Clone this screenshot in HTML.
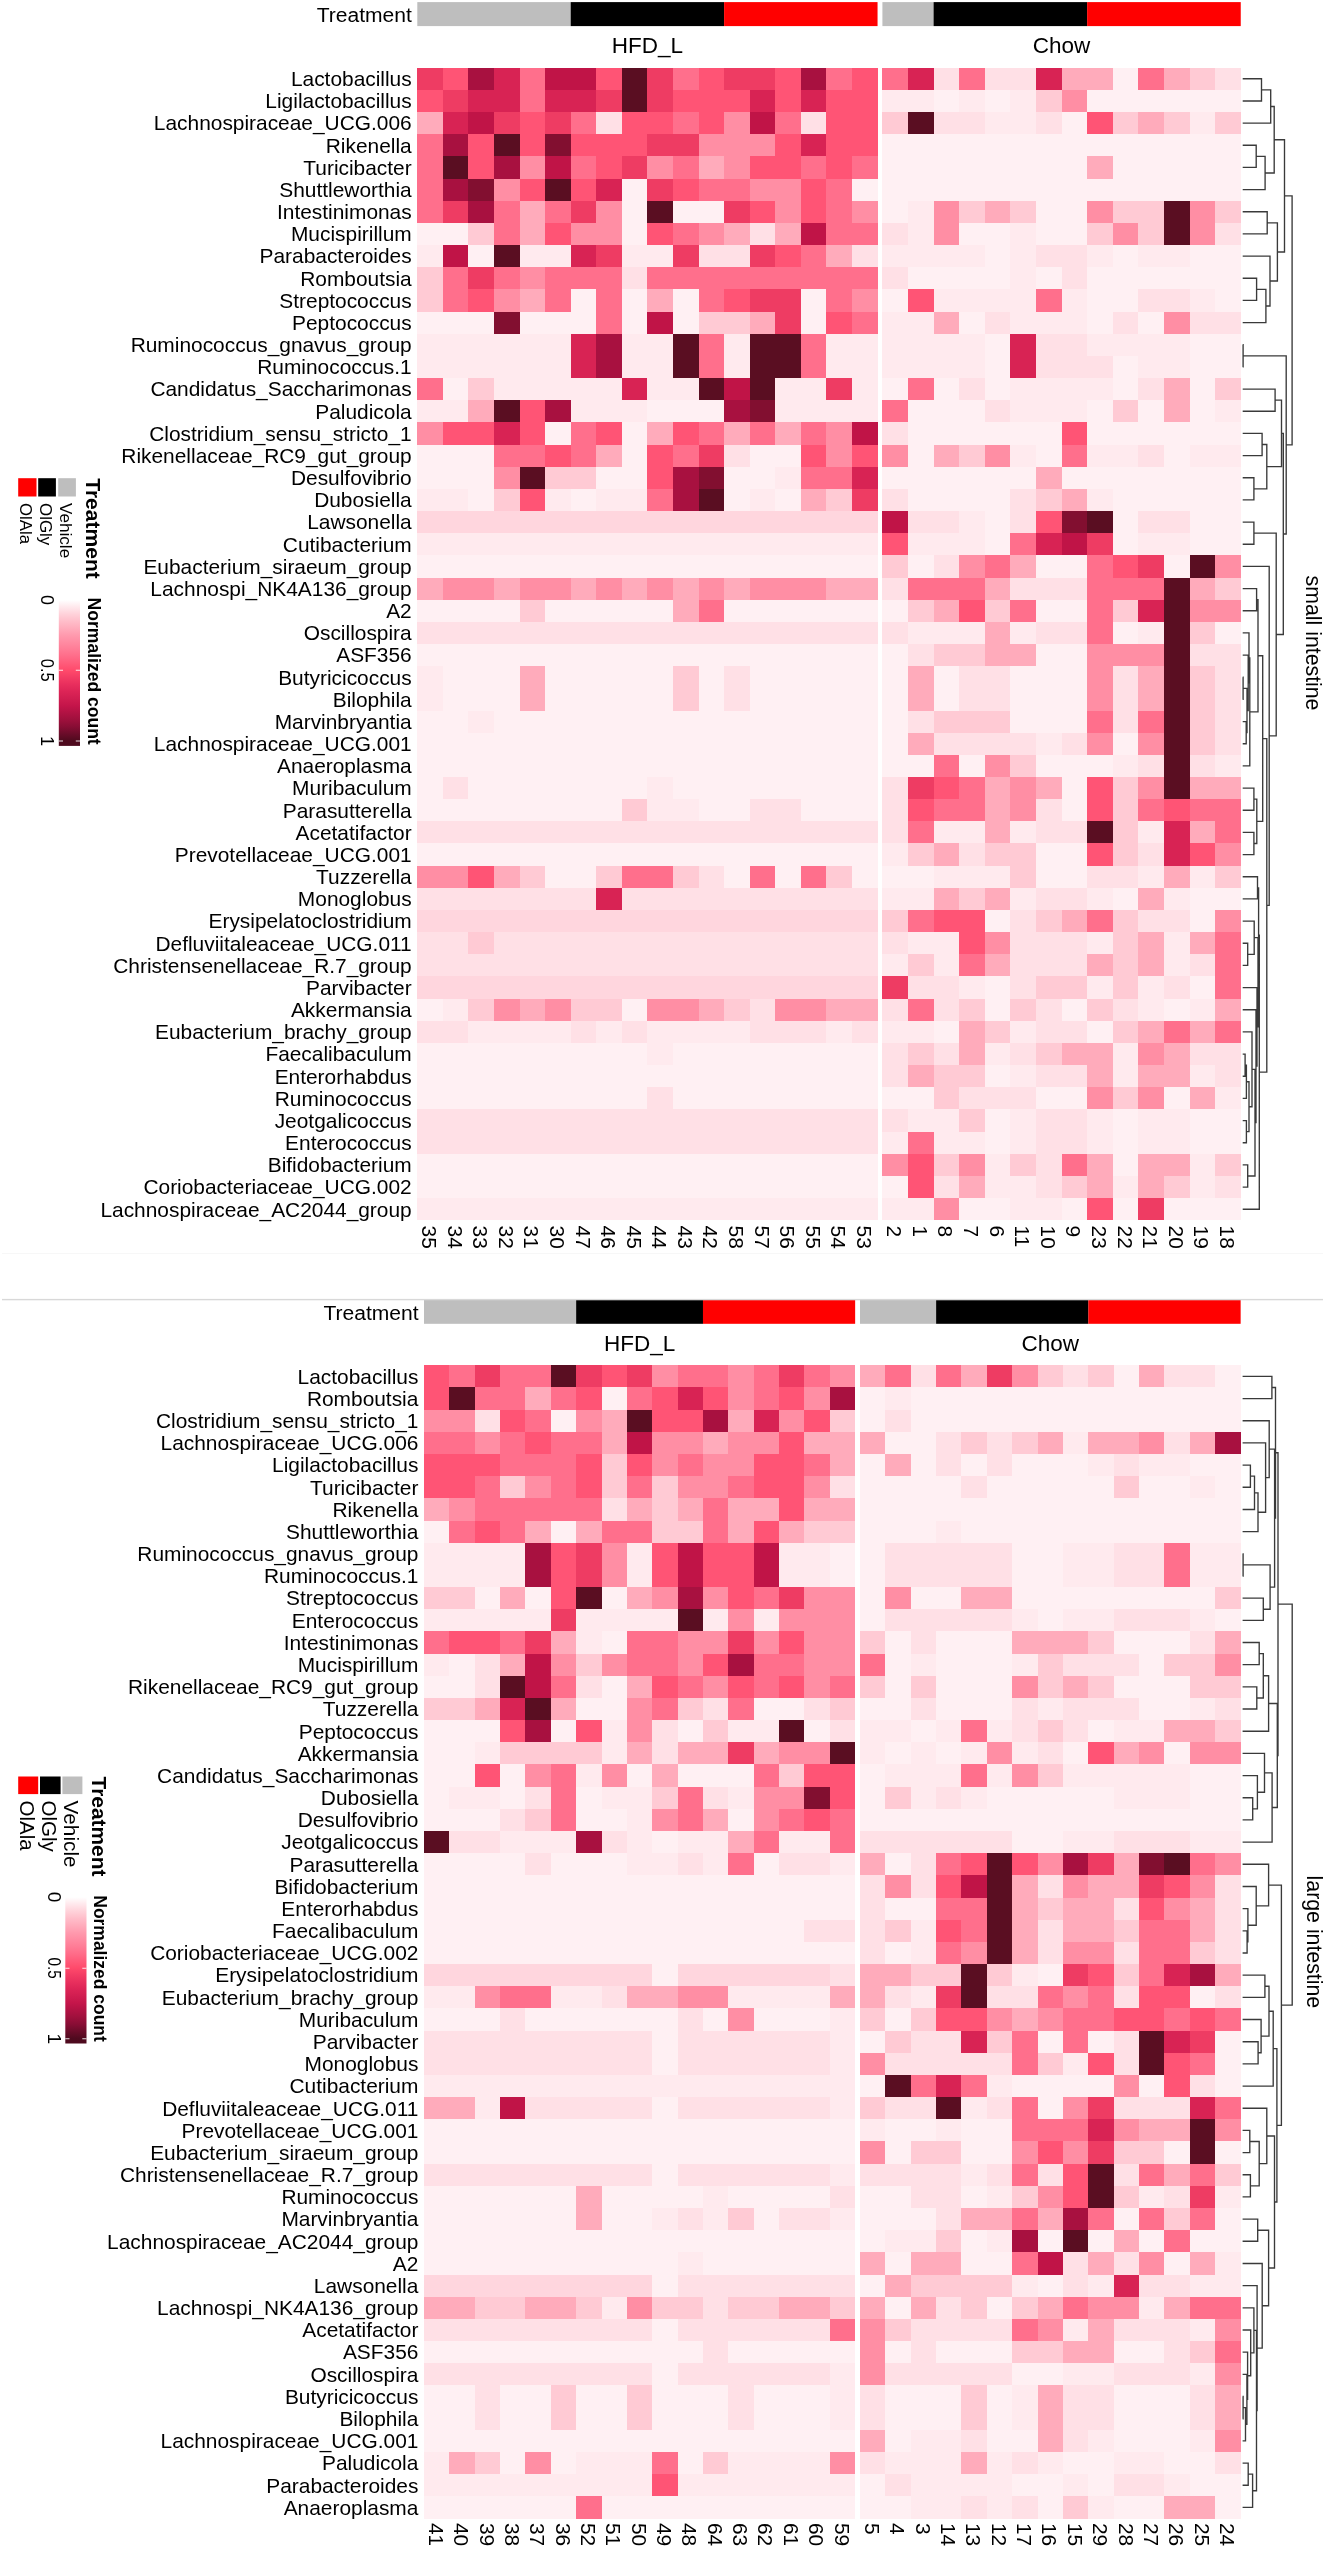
<!DOCTYPE html><html><head><meta charset="utf-8"><style>html,body{margin:0;padding:0;background:#fff;width:1326px;height:2550px;overflow:hidden}svg{display:block;will-change:transform}text{font-family:"Liberation Sans",sans-serif;fill:#000}.c0{fill:#FFF0F3}.c1{fill:#FFEAEE}.c2{fill:#FFE0E6}.c3{fill:#FFD6DE}.c4{fill:#FFCAD4}.c5{fill:#FFABBB}.c6{fill:#FF8EA4}.c7{fill:#FF6F8C}.c8{fill:#FF5475}.c9{fill:#EE3C63}.c10{fill:#D82354}.c11{fill:#C01447}.c12{fill:#A81140}.c13{fill:#820F30}.c14{fill:#5A0E22}</style></head><body>
<svg width="1326" height="2550" viewBox="0 0 1326 2550">
<rect width="1326" height="2550" fill="#fff"/>
<g shape-rendering="crispEdges">
<rect class="c9" x="417.30" y="67.70" width="25.57" height="22.19"/>
<rect class="c8" x="442.87" y="67.70" width="25.57" height="22.19"/>
<rect class="c12" x="468.43" y="67.70" width="25.57" height="22.19"/>
<rect class="c10" x="494.00" y="67.70" width="25.57" height="22.19"/>
<rect class="c7" x="519.57" y="67.70" width="25.57" height="22.19"/>
<rect class="c11" x="545.13" y="67.70" width="51.13" height="22.19"/>
<rect class="c8" x="596.27" y="67.70" width="25.57" height="22.19"/>
<rect class="c14" x="621.83" y="67.70" width="25.57" height="22.19"/>
<rect class="c9" x="647.40" y="67.70" width="25.57" height="22.19"/>
<rect class="c7" x="672.97" y="67.70" width="25.57" height="22.19"/>
<rect class="c8" x="698.53" y="67.70" width="25.57" height="22.19"/>
<rect class="c9" x="724.10" y="67.70" width="51.13" height="22.19"/>
<rect class="c8" x="775.23" y="67.70" width="25.57" height="22.19"/>
<rect class="c12" x="800.80" y="67.70" width="25.57" height="22.19"/>
<rect class="c7" x="826.37" y="67.70" width="25.57" height="22.19"/>
<rect class="c8" x="851.93" y="67.70" width="25.57" height="22.19"/>
<rect class="c8" x="417.30" y="89.87" width="25.57" height="22.19"/>
<rect class="c9" x="442.87" y="89.87" width="25.57" height="22.19"/>
<rect class="c10" x="468.43" y="89.87" width="51.13" height="22.19"/>
<rect class="c7" x="519.57" y="89.87" width="25.57" height="22.19"/>
<rect class="c10" x="545.13" y="89.87" width="51.13" height="22.19"/>
<rect class="c9" x="596.27" y="89.87" width="25.57" height="22.19"/>
<rect class="c14" x="621.83" y="89.87" width="25.57" height="22.19"/>
<rect class="c9" x="647.40" y="89.87" width="25.57" height="22.19"/>
<rect class="c8" x="672.97" y="89.87" width="76.70" height="22.19"/>
<rect class="c10" x="749.67" y="89.87" width="25.57" height="22.19"/>
<rect class="c8" x="775.23" y="89.87" width="25.57" height="22.19"/>
<rect class="c10" x="800.80" y="89.87" width="25.57" height="22.19"/>
<rect class="c8" x="826.37" y="89.87" width="51.13" height="22.19"/>
<rect class="c5" x="417.30" y="112.03" width="25.57" height="22.19"/>
<rect class="c10" x="442.87" y="112.03" width="25.57" height="22.19"/>
<rect class="c11" x="468.43" y="112.03" width="25.57" height="22.19"/>
<rect class="c9" x="494.00" y="112.03" width="25.57" height="22.19"/>
<rect class="c8" x="519.57" y="112.03" width="25.57" height="22.19"/>
<rect class="c9" x="545.13" y="112.03" width="25.57" height="22.19"/>
<rect class="c7" x="570.70" y="112.03" width="25.57" height="22.19"/>
<rect class="c2" x="596.27" y="112.03" width="25.57" height="22.19"/>
<rect class="c8" x="621.83" y="112.03" width="51.13" height="22.19"/>
<rect class="c7" x="672.97" y="112.03" width="25.57" height="22.19"/>
<rect class="c8" x="698.53" y="112.03" width="25.57" height="22.19"/>
<rect class="c6" x="724.10" y="112.03" width="25.57" height="22.19"/>
<rect class="c11" x="749.67" y="112.03" width="25.57" height="22.19"/>
<rect class="c7" x="775.23" y="112.03" width="25.57" height="22.19"/>
<rect class="c2" x="800.80" y="112.03" width="25.57" height="22.19"/>
<rect class="c8" x="826.37" y="112.03" width="51.13" height="22.19"/>
<rect class="c7" x="417.30" y="134.20" width="25.57" height="22.19"/>
<rect class="c12" x="442.87" y="134.20" width="25.57" height="22.19"/>
<rect class="c8" x="468.43" y="134.20" width="25.57" height="22.19"/>
<rect class="c14" x="494.00" y="134.20" width="25.57" height="22.19"/>
<rect class="c8" x="519.57" y="134.20" width="25.57" height="22.19"/>
<rect class="c13" x="545.13" y="134.20" width="25.57" height="22.19"/>
<rect class="c8" x="570.70" y="134.20" width="76.70" height="22.19"/>
<rect class="c9" x="647.40" y="134.20" width="51.13" height="22.19"/>
<rect class="c6" x="698.53" y="134.20" width="76.70" height="22.19"/>
<rect class="c8" x="775.23" y="134.20" width="25.57" height="22.19"/>
<rect class="c10" x="800.80" y="134.20" width="25.57" height="22.19"/>
<rect class="c8" x="826.37" y="134.20" width="51.13" height="22.19"/>
<rect class="c7" x="417.30" y="156.36" width="25.57" height="22.19"/>
<rect class="c14" x="442.87" y="156.36" width="25.57" height="22.19"/>
<rect class="c8" x="468.43" y="156.36" width="25.57" height="22.19"/>
<rect class="c12" x="494.00" y="156.36" width="25.57" height="22.19"/>
<rect class="c6" x="519.57" y="156.36" width="25.57" height="22.19"/>
<rect class="c11" x="545.13" y="156.36" width="25.57" height="22.19"/>
<rect class="c7" x="570.70" y="156.36" width="25.57" height="22.19"/>
<rect class="c8" x="596.27" y="156.36" width="25.57" height="22.19"/>
<rect class="c9" x="621.83" y="156.36" width="25.57" height="22.19"/>
<rect class="c6" x="647.40" y="156.36" width="25.57" height="22.19"/>
<rect class="c7" x="672.97" y="156.36" width="25.57" height="22.19"/>
<rect class="c5" x="698.53" y="156.36" width="25.57" height="22.19"/>
<rect class="c6" x="724.10" y="156.36" width="25.57" height="22.19"/>
<rect class="c8" x="749.67" y="156.36" width="51.13" height="22.19"/>
<rect class="c7" x="800.80" y="156.36" width="25.57" height="22.19"/>
<rect class="c8" x="826.37" y="156.36" width="25.57" height="22.19"/>
<rect class="c7" x="851.93" y="156.36" width="25.57" height="22.19"/>
<rect class="c7" x="417.30" y="178.53" width="25.57" height="22.19"/>
<rect class="c12" x="442.87" y="178.53" width="25.57" height="22.19"/>
<rect class="c13" x="468.43" y="178.53" width="25.57" height="22.19"/>
<rect class="c6" x="494.00" y="178.53" width="25.57" height="22.19"/>
<rect class="c8" x="519.57" y="178.53" width="25.57" height="22.19"/>
<rect class="c14" x="545.13" y="178.53" width="25.57" height="22.19"/>
<rect class="c8" x="570.70" y="178.53" width="25.57" height="22.19"/>
<rect class="c10" x="596.27" y="178.53" width="25.57" height="22.19"/>
<rect class="c0" x="621.83" y="178.53" width="25.57" height="22.19"/>
<rect class="c9" x="647.40" y="178.53" width="25.57" height="22.19"/>
<rect class="c8" x="672.97" y="178.53" width="25.57" height="22.19"/>
<rect class="c7" x="698.53" y="178.53" width="51.13" height="22.19"/>
<rect class="c6" x="749.67" y="178.53" width="51.13" height="22.19"/>
<rect class="c8" x="800.80" y="178.53" width="25.57" height="22.19"/>
<rect class="c7" x="826.37" y="178.53" width="25.57" height="22.19"/>
<rect class="c0" x="851.93" y="178.53" width="25.57" height="22.19"/>
<rect class="c7" x="417.30" y="200.69" width="25.57" height="22.19"/>
<rect class="c9" x="442.87" y="200.69" width="25.57" height="22.19"/>
<rect class="c12" x="468.43" y="200.69" width="25.57" height="22.19"/>
<rect class="c7" x="494.00" y="200.69" width="25.57" height="22.19"/>
<rect class="c5" x="519.57" y="200.69" width="25.57" height="22.19"/>
<rect class="c7" x="545.13" y="200.69" width="25.57" height="22.19"/>
<rect class="c9" x="570.70" y="200.69" width="25.57" height="22.19"/>
<rect class="c6" x="596.27" y="200.69" width="25.57" height="22.19"/>
<rect class="c0" x="621.83" y="200.69" width="25.57" height="22.19"/>
<rect class="c14" x="647.40" y="200.69" width="25.57" height="22.19"/>
<rect class="c0" x="672.97" y="200.69" width="51.13" height="22.19"/>
<rect class="c9" x="724.10" y="200.69" width="25.57" height="22.19"/>
<rect class="c8" x="749.67" y="200.69" width="25.57" height="22.19"/>
<rect class="c6" x="775.23" y="200.69" width="25.57" height="22.19"/>
<rect class="c8" x="800.80" y="200.69" width="25.57" height="22.19"/>
<rect class="c7" x="826.37" y="200.69" width="25.57" height="22.19"/>
<rect class="c6" x="851.93" y="200.69" width="25.57" height="22.19"/>
<rect class="c0" x="417.30" y="222.86" width="51.13" height="22.19"/>
<rect class="c4" x="468.43" y="222.86" width="25.57" height="22.19"/>
<rect class="c7" x="494.00" y="222.86" width="25.57" height="22.19"/>
<rect class="c5" x="519.57" y="222.86" width="25.57" height="22.19"/>
<rect class="c8" x="545.13" y="222.86" width="25.57" height="22.19"/>
<rect class="c6" x="570.70" y="222.86" width="51.13" height="22.19"/>
<rect class="c0" x="621.83" y="222.86" width="25.57" height="22.19"/>
<rect class="c8" x="647.40" y="222.86" width="25.57" height="22.19"/>
<rect class="c7" x="672.97" y="222.86" width="25.57" height="22.19"/>
<rect class="c6" x="698.53" y="222.86" width="25.57" height="22.19"/>
<rect class="c5" x="724.10" y="222.86" width="25.57" height="22.19"/>
<rect class="c2" x="749.67" y="222.86" width="25.57" height="22.19"/>
<rect class="c5" x="775.23" y="222.86" width="25.57" height="22.19"/>
<rect class="c11" x="800.80" y="222.86" width="25.57" height="22.19"/>
<rect class="c7" x="826.37" y="222.86" width="51.13" height="22.19"/>
<rect class="c1" x="417.30" y="245.02" width="25.57" height="22.19"/>
<rect class="c11" x="442.87" y="245.02" width="25.57" height="22.19"/>
<rect class="c0" x="468.43" y="245.02" width="25.57" height="22.19"/>
<rect class="c14" x="494.00" y="245.02" width="25.57" height="22.19"/>
<rect class="c1" x="519.57" y="245.02" width="51.13" height="22.19"/>
<rect class="c10" x="570.70" y="245.02" width="25.57" height="22.19"/>
<rect class="c9" x="596.27" y="245.02" width="25.57" height="22.19"/>
<rect class="c1" x="621.83" y="245.02" width="51.13" height="22.19"/>
<rect class="c9" x="672.97" y="245.02" width="25.57" height="22.19"/>
<rect class="c2" x="698.53" y="245.02" width="51.13" height="22.19"/>
<rect class="c9" x="749.67" y="245.02" width="25.57" height="22.19"/>
<rect class="c8" x="775.23" y="245.02" width="25.57" height="22.19"/>
<rect class="c7" x="800.80" y="245.02" width="25.57" height="22.19"/>
<rect class="c5" x="826.37" y="245.02" width="25.57" height="22.19"/>
<rect class="c2" x="851.93" y="245.02" width="25.57" height="22.19"/>
<rect class="c4" x="417.30" y="267.19" width="25.57" height="22.19"/>
<rect class="c7" x="442.87" y="267.19" width="25.57" height="22.19"/>
<rect class="c9" x="468.43" y="267.19" width="25.57" height="22.19"/>
<rect class="c7" x="494.00" y="267.19" width="25.57" height="22.19"/>
<rect class="c6" x="519.57" y="267.19" width="25.57" height="22.19"/>
<rect class="c7" x="545.13" y="267.19" width="76.70" height="22.19"/>
<rect class="c2" x="621.83" y="267.19" width="25.57" height="22.19"/>
<rect class="c7" x="647.40" y="267.19" width="230.10" height="22.19"/>
<rect class="c4" x="417.30" y="289.35" width="25.57" height="22.19"/>
<rect class="c7" x="442.87" y="289.35" width="25.57" height="22.19"/>
<rect class="c8" x="468.43" y="289.35" width="25.57" height="22.19"/>
<rect class="c6" x="494.00" y="289.35" width="25.57" height="22.19"/>
<rect class="c5" x="519.57" y="289.35" width="25.57" height="22.19"/>
<rect class="c7" x="545.13" y="289.35" width="25.57" height="22.19"/>
<rect class="c0" x="570.70" y="289.35" width="25.57" height="22.19"/>
<rect class="c7" x="596.27" y="289.35" width="25.57" height="22.19"/>
<rect class="c0" x="621.83" y="289.35" width="25.57" height="22.19"/>
<rect class="c5" x="647.40" y="289.35" width="25.57" height="22.19"/>
<rect class="c0" x="672.97" y="289.35" width="25.57" height="22.19"/>
<rect class="c7" x="698.53" y="289.35" width="25.57" height="22.19"/>
<rect class="c8" x="724.10" y="289.35" width="25.57" height="22.19"/>
<rect class="c9" x="749.67" y="289.35" width="51.13" height="22.19"/>
<rect class="c0" x="800.80" y="289.35" width="25.57" height="22.19"/>
<rect class="c7" x="826.37" y="289.35" width="25.57" height="22.19"/>
<rect class="c6" x="851.93" y="289.35" width="25.57" height="22.19"/>
<rect class="c0" x="417.30" y="311.52" width="76.70" height="22.19"/>
<rect class="c13" x="494.00" y="311.52" width="25.57" height="22.19"/>
<rect class="c0" x="519.57" y="311.52" width="76.70" height="22.19"/>
<rect class="c7" x="596.27" y="311.52" width="25.57" height="22.19"/>
<rect class="c0" x="621.83" y="311.52" width="25.57" height="22.19"/>
<rect class="c11" x="647.40" y="311.52" width="25.57" height="22.19"/>
<rect class="c0" x="672.97" y="311.52" width="25.57" height="22.19"/>
<rect class="c4" x="698.53" y="311.52" width="51.13" height="22.19"/>
<rect class="c5" x="749.67" y="311.52" width="25.57" height="22.19"/>
<rect class="c9" x="775.23" y="311.52" width="25.57" height="22.19"/>
<rect class="c0" x="800.80" y="311.52" width="25.57" height="22.19"/>
<rect class="c8" x="826.37" y="311.52" width="25.57" height="22.19"/>
<rect class="c7" x="851.93" y="311.52" width="25.57" height="22.19"/>
<rect class="c1" x="417.30" y="333.68" width="153.40" height="22.19"/>
<rect class="c10" x="570.70" y="333.68" width="25.57" height="22.19"/>
<rect class="c12" x="596.27" y="333.68" width="25.57" height="22.19"/>
<rect class="c1" x="621.83" y="333.68" width="51.13" height="22.19"/>
<rect class="c14" x="672.97" y="333.68" width="25.57" height="22.19"/>
<rect class="c7" x="698.53" y="333.68" width="25.57" height="22.19"/>
<rect class="c1" x="724.10" y="333.68" width="25.57" height="22.19"/>
<rect class="c14" x="749.67" y="333.68" width="51.13" height="22.19"/>
<rect class="c7" x="800.80" y="333.68" width="25.57" height="22.19"/>
<rect class="c1" x="826.37" y="333.68" width="51.13" height="22.19"/>
<rect class="c1" x="417.30" y="355.85" width="153.40" height="22.19"/>
<rect class="c10" x="570.70" y="355.85" width="25.57" height="22.19"/>
<rect class="c12" x="596.27" y="355.85" width="25.57" height="22.19"/>
<rect class="c1" x="621.83" y="355.85" width="51.13" height="22.19"/>
<rect class="c14" x="672.97" y="355.85" width="25.57" height="22.19"/>
<rect class="c7" x="698.53" y="355.85" width="25.57" height="22.19"/>
<rect class="c1" x="724.10" y="355.85" width="25.57" height="22.19"/>
<rect class="c14" x="749.67" y="355.85" width="51.13" height="22.19"/>
<rect class="c7" x="800.80" y="355.85" width="25.57" height="22.19"/>
<rect class="c1" x="826.37" y="355.85" width="51.13" height="22.19"/>
<rect class="c7" x="417.30" y="378.02" width="25.57" height="22.19"/>
<rect class="c0" x="442.87" y="378.02" width="25.57" height="22.19"/>
<rect class="c4" x="468.43" y="378.02" width="25.57" height="22.19"/>
<rect class="c1" x="494.00" y="378.02" width="127.83" height="22.19"/>
<rect class="c10" x="621.83" y="378.02" width="25.57" height="22.19"/>
<rect class="c1" x="647.40" y="378.02" width="51.13" height="22.19"/>
<rect class="c14" x="698.53" y="378.02" width="25.57" height="22.19"/>
<rect class="c11" x="724.10" y="378.02" width="25.57" height="22.19"/>
<rect class="c14" x="749.67" y="378.02" width="25.57" height="22.19"/>
<rect class="c1" x="775.23" y="378.02" width="51.13" height="22.19"/>
<rect class="c9" x="826.37" y="378.02" width="25.57" height="22.19"/>
<rect class="c1" x="851.93" y="378.02" width="25.57" height="22.19"/>
<rect class="c1" x="417.30" y="400.18" width="51.13" height="22.19"/>
<rect class="c5" x="468.43" y="400.18" width="25.57" height="22.19"/>
<rect class="c14" x="494.00" y="400.18" width="25.57" height="22.19"/>
<rect class="c8" x="519.57" y="400.18" width="25.57" height="22.19"/>
<rect class="c12" x="545.13" y="400.18" width="25.57" height="22.19"/>
<rect class="c1" x="570.70" y="400.18" width="76.70" height="22.19"/>
<rect class="c0" x="647.40" y="400.18" width="76.70" height="22.19"/>
<rect class="c12" x="724.10" y="400.18" width="25.57" height="22.19"/>
<rect class="c13" x="749.67" y="400.18" width="25.57" height="22.19"/>
<rect class="c1" x="775.23" y="400.18" width="102.27" height="22.19"/>
<rect class="c6" x="417.30" y="422.35" width="25.57" height="22.19"/>
<rect class="c8" x="442.87" y="422.35" width="51.13" height="22.19"/>
<rect class="c10" x="494.00" y="422.35" width="25.57" height="22.19"/>
<rect class="c8" x="519.57" y="422.35" width="25.57" height="22.19"/>
<rect class="c0" x="545.13" y="422.35" width="25.57" height="22.19"/>
<rect class="c7" x="570.70" y="422.35" width="25.57" height="22.19"/>
<rect class="c8" x="596.27" y="422.35" width="25.57" height="22.19"/>
<rect class="c0" x="621.83" y="422.35" width="25.57" height="22.19"/>
<rect class="c5" x="647.40" y="422.35" width="25.57" height="22.19"/>
<rect class="c8" x="672.97" y="422.35" width="25.57" height="22.19"/>
<rect class="c7" x="698.53" y="422.35" width="25.57" height="22.19"/>
<rect class="c5" x="724.10" y="422.35" width="25.57" height="22.19"/>
<rect class="c7" x="749.67" y="422.35" width="25.57" height="22.19"/>
<rect class="c5" x="775.23" y="422.35" width="25.57" height="22.19"/>
<rect class="c7" x="800.80" y="422.35" width="25.57" height="22.19"/>
<rect class="c6" x="826.37" y="422.35" width="25.57" height="22.19"/>
<rect class="c11" x="851.93" y="422.35" width="25.57" height="22.19"/>
<rect class="c0" x="417.30" y="444.51" width="76.70" height="22.19"/>
<rect class="c7" x="494.00" y="444.51" width="51.13" height="22.19"/>
<rect class="c8" x="545.13" y="444.51" width="25.57" height="22.19"/>
<rect class="c7" x="570.70" y="444.51" width="25.57" height="22.19"/>
<rect class="c5" x="596.27" y="444.51" width="25.57" height="22.19"/>
<rect class="c0" x="621.83" y="444.51" width="25.57" height="22.19"/>
<rect class="c8" x="647.40" y="444.51" width="25.57" height="22.19"/>
<rect class="c7" x="672.97" y="444.51" width="25.57" height="22.19"/>
<rect class="c9" x="698.53" y="444.51" width="25.57" height="22.19"/>
<rect class="c2" x="724.10" y="444.51" width="25.57" height="22.19"/>
<rect class="c0" x="749.67" y="444.51" width="51.13" height="22.19"/>
<rect class="c8" x="800.80" y="444.51" width="25.57" height="22.19"/>
<rect class="c6" x="826.37" y="444.51" width="25.57" height="22.19"/>
<rect class="c8" x="851.93" y="444.51" width="25.57" height="22.19"/>
<rect class="c0" x="417.30" y="466.68" width="76.70" height="22.19"/>
<rect class="c6" x="494.00" y="466.68" width="25.57" height="22.19"/>
<rect class="c14" x="519.57" y="466.68" width="25.57" height="22.19"/>
<rect class="c4" x="545.13" y="466.68" width="51.13" height="22.19"/>
<rect class="c0" x="596.27" y="466.68" width="51.13" height="22.19"/>
<rect class="c8" x="647.40" y="466.68" width="25.57" height="22.19"/>
<rect class="c12" x="672.97" y="466.68" width="25.57" height="22.19"/>
<rect class="c13" x="698.53" y="466.68" width="25.57" height="22.19"/>
<rect class="c0" x="724.10" y="466.68" width="51.13" height="22.19"/>
<rect class="c1" x="775.23" y="466.68" width="25.57" height="22.19"/>
<rect class="c7" x="800.80" y="466.68" width="51.13" height="22.19"/>
<rect class="c10" x="851.93" y="466.68" width="25.57" height="22.19"/>
<rect class="c1" x="417.30" y="488.84" width="51.13" height="22.19"/>
<rect class="c0" x="468.43" y="488.84" width="25.57" height="22.19"/>
<rect class="c4" x="494.00" y="488.84" width="25.57" height="22.19"/>
<rect class="c8" x="519.57" y="488.84" width="25.57" height="22.19"/>
<rect class="c1" x="545.13" y="488.84" width="25.57" height="22.19"/>
<rect class="c0" x="570.70" y="488.84" width="25.57" height="22.19"/>
<rect class="c1" x="596.27" y="488.84" width="51.13" height="22.19"/>
<rect class="c7" x="647.40" y="488.84" width="25.57" height="22.19"/>
<rect class="c12" x="672.97" y="488.84" width="25.57" height="22.19"/>
<rect class="c14" x="698.53" y="488.84" width="25.57" height="22.19"/>
<rect class="c0" x="724.10" y="488.84" width="25.57" height="22.19"/>
<rect class="c1" x="749.67" y="488.84" width="25.57" height="22.19"/>
<rect class="c0" x="775.23" y="488.84" width="25.57" height="22.19"/>
<rect class="c5" x="800.80" y="488.84" width="25.57" height="22.19"/>
<rect class="c4" x="826.37" y="488.84" width="25.57" height="22.19"/>
<rect class="c9" x="851.93" y="488.84" width="25.57" height="22.19"/>
<rect class="c3" x="417.30" y="511.01" width="460.20" height="22.19"/>
<rect class="c1" x="417.30" y="533.17" width="460.20" height="22.19"/>
<rect class="c0" x="417.30" y="555.34" width="460.20" height="22.19"/>
<rect class="c5" x="417.30" y="577.50" width="25.57" height="22.19"/>
<rect class="c6" x="442.87" y="577.50" width="51.13" height="22.19"/>
<rect class="c5" x="494.00" y="577.50" width="25.57" height="22.19"/>
<rect class="c6" x="519.57" y="577.50" width="51.13" height="22.19"/>
<rect class="c5" x="570.70" y="577.50" width="25.57" height="22.19"/>
<rect class="c6" x="596.27" y="577.50" width="25.57" height="22.19"/>
<rect class="c5" x="621.83" y="577.50" width="25.57" height="22.19"/>
<rect class="c6" x="647.40" y="577.50" width="25.57" height="22.19"/>
<rect class="c5" x="672.97" y="577.50" width="25.57" height="22.19"/>
<rect class="c6" x="698.53" y="577.50" width="25.57" height="22.19"/>
<rect class="c5" x="724.10" y="577.50" width="25.57" height="22.19"/>
<rect class="c6" x="749.67" y="577.50" width="76.70" height="22.19"/>
<rect class="c5" x="826.37" y="577.50" width="51.13" height="22.19"/>
<rect class="c0" x="417.30" y="599.67" width="102.27" height="22.19"/>
<rect class="c4" x="519.57" y="599.67" width="25.57" height="22.19"/>
<rect class="c0" x="545.13" y="599.67" width="127.83" height="22.19"/>
<rect class="c5" x="672.97" y="599.67" width="25.57" height="22.19"/>
<rect class="c7" x="698.53" y="599.67" width="25.57" height="22.19"/>
<rect class="c0" x="724.10" y="599.67" width="153.40" height="22.19"/>
<rect class="c2" x="417.30" y="621.83" width="460.20" height="22.19"/>
<rect class="c0" x="417.30" y="644.00" width="460.20" height="22.19"/>
<rect class="c1" x="417.30" y="666.17" width="25.57" height="22.19"/>
<rect class="c0" x="442.87" y="666.17" width="76.70" height="22.19"/>
<rect class="c5" x="519.57" y="666.17" width="25.57" height="22.19"/>
<rect class="c0" x="545.13" y="666.17" width="127.83" height="22.19"/>
<rect class="c4" x="672.97" y="666.17" width="25.57" height="22.19"/>
<rect class="c0" x="698.53" y="666.17" width="25.57" height="22.19"/>
<rect class="c2" x="724.10" y="666.17" width="25.57" height="22.19"/>
<rect class="c0" x="749.67" y="666.17" width="127.83" height="22.19"/>
<rect class="c1" x="417.30" y="688.33" width="25.57" height="22.19"/>
<rect class="c0" x="442.87" y="688.33" width="76.70" height="22.19"/>
<rect class="c5" x="519.57" y="688.33" width="25.57" height="22.19"/>
<rect class="c0" x="545.13" y="688.33" width="127.83" height="22.19"/>
<rect class="c4" x="672.97" y="688.33" width="25.57" height="22.19"/>
<rect class="c0" x="698.53" y="688.33" width="25.57" height="22.19"/>
<rect class="c2" x="724.10" y="688.33" width="25.57" height="22.19"/>
<rect class="c0" x="749.67" y="688.33" width="127.83" height="22.19"/>
<rect class="c0" x="417.30" y="710.50" width="51.13" height="22.19"/>
<rect class="c1" x="468.43" y="710.50" width="25.57" height="22.19"/>
<rect class="c0" x="494.00" y="710.50" width="383.50" height="22.19"/>
<rect class="c0" x="417.30" y="732.66" width="460.20" height="22.19"/>
<rect class="c0" x="417.30" y="754.83" width="460.20" height="22.19"/>
<rect class="c0" x="417.30" y="776.99" width="25.57" height="22.19"/>
<rect class="c2" x="442.87" y="776.99" width="25.57" height="22.19"/>
<rect class="c0" x="468.43" y="776.99" width="178.97" height="22.19"/>
<rect class="c1" x="647.40" y="776.99" width="25.57" height="22.19"/>
<rect class="c0" x="672.97" y="776.99" width="204.53" height="22.19"/>
<rect class="c0" x="417.30" y="799.16" width="204.53" height="22.19"/>
<rect class="c4" x="621.83" y="799.16" width="25.57" height="22.19"/>
<rect class="c1" x="647.40" y="799.16" width="51.13" height="22.19"/>
<rect class="c0" x="698.53" y="799.16" width="51.13" height="22.19"/>
<rect class="c2" x="749.67" y="799.16" width="51.13" height="22.19"/>
<rect class="c0" x="800.80" y="799.16" width="76.70" height="22.19"/>
<rect class="c2" x="417.30" y="821.32" width="460.20" height="22.19"/>
<rect class="c0" x="417.30" y="843.49" width="460.20" height="22.19"/>
<rect class="c6" x="417.30" y="865.65" width="51.13" height="22.19"/>
<rect class="c8" x="468.43" y="865.65" width="25.57" height="22.19"/>
<rect class="c5" x="494.00" y="865.65" width="25.57" height="22.19"/>
<rect class="c4" x="519.57" y="865.65" width="25.57" height="22.19"/>
<rect class="c0" x="545.13" y="865.65" width="51.13" height="22.19"/>
<rect class="c4" x="596.27" y="865.65" width="25.57" height="22.19"/>
<rect class="c7" x="621.83" y="865.65" width="51.13" height="22.19"/>
<rect class="c4" x="672.97" y="865.65" width="25.57" height="22.19"/>
<rect class="c2" x="698.53" y="865.65" width="25.57" height="22.19"/>
<rect class="c0" x="724.10" y="865.65" width="25.57" height="22.19"/>
<rect class="c7" x="749.67" y="865.65" width="25.57" height="22.19"/>
<rect class="c0" x="775.23" y="865.65" width="25.57" height="22.19"/>
<rect class="c7" x="800.80" y="865.65" width="25.57" height="22.19"/>
<rect class="c4" x="826.37" y="865.65" width="25.57" height="22.19"/>
<rect class="c0" x="851.93" y="865.65" width="25.57" height="22.19"/>
<rect class="c2" x="417.30" y="887.82" width="178.97" height="22.19"/>
<rect class="c10" x="596.27" y="887.82" width="25.57" height="22.19"/>
<rect class="c2" x="621.83" y="887.82" width="255.67" height="22.19"/>
<rect class="c3" x="417.30" y="909.98" width="460.20" height="22.19"/>
<rect class="c2" x="417.30" y="932.15" width="51.13" height="22.19"/>
<rect class="c4" x="468.43" y="932.15" width="25.57" height="22.19"/>
<rect class="c2" x="494.00" y="932.15" width="383.50" height="22.19"/>
<rect class="c2" x="417.30" y="954.32" width="460.20" height="22.19"/>
<rect class="c3" x="417.30" y="976.48" width="460.20" height="22.19"/>
<rect class="c0" x="417.30" y="998.65" width="25.57" height="22.19"/>
<rect class="c1" x="442.87" y="998.65" width="25.57" height="22.19"/>
<rect class="c4" x="468.43" y="998.65" width="25.57" height="22.19"/>
<rect class="c6" x="494.00" y="998.65" width="25.57" height="22.19"/>
<rect class="c5" x="519.57" y="998.65" width="25.57" height="22.19"/>
<rect class="c6" x="545.13" y="998.65" width="25.57" height="22.19"/>
<rect class="c4" x="570.70" y="998.65" width="51.13" height="22.19"/>
<rect class="c0" x="621.83" y="998.65" width="25.57" height="22.19"/>
<rect class="c6" x="647.40" y="998.65" width="51.13" height="22.19"/>
<rect class="c5" x="698.53" y="998.65" width="25.57" height="22.19"/>
<rect class="c4" x="724.10" y="998.65" width="25.57" height="22.19"/>
<rect class="c2" x="749.67" y="998.65" width="25.57" height="22.19"/>
<rect class="c6" x="775.23" y="998.65" width="51.13" height="22.19"/>
<rect class="c5" x="826.37" y="998.65" width="51.13" height="22.19"/>
<rect class="c2" x="417.30" y="1020.81" width="51.13" height="22.19"/>
<rect class="c1" x="468.43" y="1020.81" width="102.27" height="22.19"/>
<rect class="c2" x="570.70" y="1020.81" width="25.57" height="22.19"/>
<rect class="c1" x="596.27" y="1020.81" width="25.57" height="22.19"/>
<rect class="c2" x="621.83" y="1020.81" width="25.57" height="22.19"/>
<rect class="c1" x="647.40" y="1020.81" width="102.27" height="22.19"/>
<rect class="c2" x="749.67" y="1020.81" width="76.70" height="22.19"/>
<rect class="c1" x="826.37" y="1020.81" width="25.57" height="22.19"/>
<rect class="c2" x="851.93" y="1020.81" width="25.57" height="22.19"/>
<rect class="c0" x="417.30" y="1042.98" width="230.10" height="22.19"/>
<rect class="c1" x="647.40" y="1042.98" width="25.57" height="22.19"/>
<rect class="c0" x="672.97" y="1042.98" width="204.53" height="22.19"/>
<rect class="c0" x="417.30" y="1065.14" width="460.20" height="22.19"/>
<rect class="c0" x="417.30" y="1087.31" width="230.10" height="22.19"/>
<rect class="c2" x="647.40" y="1087.31" width="25.57" height="22.19"/>
<rect class="c0" x="672.97" y="1087.31" width="204.53" height="22.19"/>
<rect class="c2" x="417.30" y="1109.47" width="460.20" height="22.19"/>
<rect class="c2" x="417.30" y="1131.64" width="460.20" height="22.19"/>
<rect class="c0" x="417.30" y="1153.80" width="460.20" height="22.19"/>
<rect class="c0" x="417.30" y="1175.97" width="460.20" height="22.19"/>
<rect class="c1" x="417.30" y="1198.13" width="460.20" height="22.19"/>
<rect class="c7" x="882.40" y="67.70" width="25.59" height="22.19"/>
<rect class="c10" x="907.99" y="67.70" width="25.59" height="22.19"/>
<rect class="c2" x="933.59" y="67.70" width="25.59" height="22.19"/>
<rect class="c7" x="959.18" y="67.70" width="25.59" height="22.19"/>
<rect class="c2" x="984.77" y="67.70" width="51.19" height="22.19"/>
<rect class="c10" x="1035.96" y="67.70" width="25.59" height="22.19"/>
<rect class="c5" x="1061.55" y="67.70" width="51.19" height="22.19"/>
<rect class="c0" x="1112.74" y="67.70" width="25.59" height="22.19"/>
<rect class="c7" x="1138.33" y="67.70" width="25.59" height="22.19"/>
<rect class="c5" x="1163.92" y="67.70" width="25.59" height="22.19"/>
<rect class="c4" x="1189.51" y="67.70" width="25.59" height="22.19"/>
<rect class="c2" x="1215.11" y="67.70" width="25.59" height="22.19"/>
<rect class="c1" x="882.40" y="89.87" width="51.19" height="22.19"/>
<rect class="c0" x="933.59" y="89.87" width="25.59" height="22.19"/>
<rect class="c1" x="959.18" y="89.87" width="25.59" height="22.19"/>
<rect class="c0" x="984.77" y="89.87" width="25.59" height="22.19"/>
<rect class="c1" x="1010.36" y="89.87" width="25.59" height="22.19"/>
<rect class="c4" x="1035.96" y="89.87" width="25.59" height="22.19"/>
<rect class="c6" x="1061.55" y="89.87" width="25.59" height="22.19"/>
<rect class="c0" x="1087.14" y="89.87" width="153.56" height="22.19"/>
<rect class="c4" x="882.40" y="112.03" width="25.59" height="22.19"/>
<rect class="c14" x="907.99" y="112.03" width="25.59" height="22.19"/>
<rect class="c2" x="933.59" y="112.03" width="51.19" height="22.19"/>
<rect class="c1" x="984.77" y="112.03" width="51.19" height="22.19"/>
<rect class="c2" x="1035.96" y="112.03" width="25.59" height="22.19"/>
<rect class="c0" x="1061.55" y="112.03" width="25.59" height="22.19"/>
<rect class="c8" x="1087.14" y="112.03" width="25.59" height="22.19"/>
<rect class="c4" x="1112.74" y="112.03" width="25.59" height="22.19"/>
<rect class="c5" x="1138.33" y="112.03" width="25.59" height="22.19"/>
<rect class="c4" x="1163.92" y="112.03" width="25.59" height="22.19"/>
<rect class="c1" x="1189.51" y="112.03" width="25.59" height="22.19"/>
<rect class="c4" x="1215.11" y="112.03" width="25.59" height="22.19"/>
<rect class="c0" x="882.40" y="134.20" width="358.30" height="22.19"/>
<rect class="c0" x="882.40" y="156.36" width="204.74" height="22.19"/>
<rect class="c5" x="1087.14" y="156.36" width="25.59" height="22.19"/>
<rect class="c0" x="1112.74" y="156.36" width="127.96" height="22.19"/>
<rect class="c0" x="882.40" y="178.53" width="358.30" height="22.19"/>
<rect class="c0" x="882.40" y="200.69" width="25.59" height="22.19"/>
<rect class="c1" x="907.99" y="200.69" width="25.59" height="22.19"/>
<rect class="c6" x="933.59" y="200.69" width="25.59" height="22.19"/>
<rect class="c4" x="959.18" y="200.69" width="25.59" height="22.19"/>
<rect class="c5" x="984.77" y="200.69" width="25.59" height="22.19"/>
<rect class="c4" x="1010.36" y="200.69" width="25.59" height="22.19"/>
<rect class="c0" x="1035.96" y="200.69" width="51.19" height="22.19"/>
<rect class="c6" x="1087.14" y="200.69" width="25.59" height="22.19"/>
<rect class="c4" x="1112.74" y="200.69" width="51.19" height="22.19"/>
<rect class="c14" x="1163.92" y="200.69" width="25.59" height="22.19"/>
<rect class="c6" x="1189.51" y="200.69" width="25.59" height="22.19"/>
<rect class="c4" x="1215.11" y="200.69" width="25.59" height="22.19"/>
<rect class="c2" x="882.40" y="222.86" width="25.59" height="22.19"/>
<rect class="c1" x="907.99" y="222.86" width="25.59" height="22.19"/>
<rect class="c6" x="933.59" y="222.86" width="25.59" height="22.19"/>
<rect class="c0" x="959.18" y="222.86" width="51.19" height="22.19"/>
<rect class="c1" x="1010.36" y="222.86" width="25.59" height="22.19"/>
<rect class="c0" x="1035.96" y="222.86" width="51.19" height="22.19"/>
<rect class="c4" x="1087.14" y="222.86" width="25.59" height="22.19"/>
<rect class="c6" x="1112.74" y="222.86" width="25.59" height="22.19"/>
<rect class="c4" x="1138.33" y="222.86" width="25.59" height="22.19"/>
<rect class="c14" x="1163.92" y="222.86" width="25.59" height="22.19"/>
<rect class="c6" x="1189.51" y="222.86" width="25.59" height="22.19"/>
<rect class="c2" x="1215.11" y="222.86" width="25.59" height="22.19"/>
<rect class="c1" x="882.40" y="245.02" width="102.37" height="22.19"/>
<rect class="c0" x="984.77" y="245.02" width="25.59" height="22.19"/>
<rect class="c1" x="1010.36" y="245.02" width="25.59" height="22.19"/>
<rect class="c2" x="1035.96" y="245.02" width="51.19" height="22.19"/>
<rect class="c1" x="1087.14" y="245.02" width="25.59" height="22.19"/>
<rect class="c0" x="1112.74" y="245.02" width="25.59" height="22.19"/>
<rect class="c1" x="1138.33" y="245.02" width="51.19" height="22.19"/>
<rect class="c0" x="1189.51" y="245.02" width="51.19" height="22.19"/>
<rect class="c2" x="882.40" y="267.19" width="25.59" height="22.19"/>
<rect class="c0" x="907.99" y="267.19" width="102.37" height="22.19"/>
<rect class="c1" x="1010.36" y="267.19" width="25.59" height="22.19"/>
<rect class="c0" x="1035.96" y="267.19" width="25.59" height="22.19"/>
<rect class="c2" x="1061.55" y="267.19" width="25.59" height="22.19"/>
<rect class="c0" x="1087.14" y="267.19" width="153.56" height="22.19"/>
<rect class="c0" x="882.40" y="289.35" width="25.59" height="22.19"/>
<rect class="c8" x="907.99" y="289.35" width="25.59" height="22.19"/>
<rect class="c1" x="933.59" y="289.35" width="102.37" height="22.19"/>
<rect class="c7" x="1035.96" y="289.35" width="25.59" height="22.19"/>
<rect class="c1" x="1061.55" y="289.35" width="25.59" height="22.19"/>
<rect class="c0" x="1087.14" y="289.35" width="51.19" height="22.19"/>
<rect class="c2" x="1138.33" y="289.35" width="51.19" height="22.19"/>
<rect class="c1" x="1189.51" y="289.35" width="25.59" height="22.19"/>
<rect class="c0" x="1215.11" y="289.35" width="25.59" height="22.19"/>
<rect class="c1" x="882.40" y="311.52" width="51.19" height="22.19"/>
<rect class="c5" x="933.59" y="311.52" width="25.59" height="22.19"/>
<rect class="c0" x="959.18" y="311.52" width="25.59" height="22.19"/>
<rect class="c2" x="984.77" y="311.52" width="25.59" height="22.19"/>
<rect class="c1" x="1010.36" y="311.52" width="76.78" height="22.19"/>
<rect class="c0" x="1087.14" y="311.52" width="25.59" height="22.19"/>
<rect class="c2" x="1112.74" y="311.52" width="25.59" height="22.19"/>
<rect class="c0" x="1138.33" y="311.52" width="25.59" height="22.19"/>
<rect class="c6" x="1163.92" y="311.52" width="25.59" height="22.19"/>
<rect class="c2" x="1189.51" y="311.52" width="51.19" height="22.19"/>
<rect class="c1" x="882.40" y="333.68" width="102.37" height="22.19"/>
<rect class="c0" x="984.77" y="333.68" width="25.59" height="22.19"/>
<rect class="c10" x="1010.36" y="333.68" width="25.59" height="22.19"/>
<rect class="c2" x="1035.96" y="333.68" width="51.19" height="22.19"/>
<rect class="c1" x="1087.14" y="333.68" width="102.37" height="22.19"/>
<rect class="c0" x="1189.51" y="333.68" width="51.19" height="22.19"/>
<rect class="c1" x="882.40" y="355.85" width="102.37" height="22.19"/>
<rect class="c0" x="984.77" y="355.85" width="25.59" height="22.19"/>
<rect class="c10" x="1010.36" y="355.85" width="25.59" height="22.19"/>
<rect class="c2" x="1035.96" y="355.85" width="76.78" height="22.19"/>
<rect class="c0" x="1112.74" y="355.85" width="25.59" height="22.19"/>
<rect class="c1" x="1138.33" y="355.85" width="51.19" height="22.19"/>
<rect class="c0" x="1189.51" y="355.85" width="51.19" height="22.19"/>
<rect class="c0" x="882.40" y="378.02" width="25.59" height="22.19"/>
<rect class="c7" x="907.99" y="378.02" width="25.59" height="22.19"/>
<rect class="c0" x="933.59" y="378.02" width="25.59" height="22.19"/>
<rect class="c2" x="959.18" y="378.02" width="25.59" height="22.19"/>
<rect class="c0" x="984.77" y="378.02" width="25.59" height="22.19"/>
<rect class="c1" x="1010.36" y="378.02" width="102.37" height="22.19"/>
<rect class="c0" x="1112.74" y="378.02" width="25.59" height="22.19"/>
<rect class="c2" x="1138.33" y="378.02" width="25.59" height="22.19"/>
<rect class="c5" x="1163.92" y="378.02" width="25.59" height="22.19"/>
<rect class="c0" x="1189.51" y="378.02" width="25.59" height="22.19"/>
<rect class="c4" x="1215.11" y="378.02" width="25.59" height="22.19"/>
<rect class="c7" x="882.40" y="400.18" width="25.59" height="22.19"/>
<rect class="c0" x="907.99" y="400.18" width="76.78" height="22.19"/>
<rect class="c2" x="984.77" y="400.18" width="25.59" height="22.19"/>
<rect class="c1" x="1010.36" y="400.18" width="76.78" height="22.19"/>
<rect class="c0" x="1087.14" y="400.18" width="25.59" height="22.19"/>
<rect class="c4" x="1112.74" y="400.18" width="25.59" height="22.19"/>
<rect class="c0" x="1138.33" y="400.18" width="25.59" height="22.19"/>
<rect class="c5" x="1163.92" y="400.18" width="25.59" height="22.19"/>
<rect class="c0" x="1189.51" y="400.18" width="25.59" height="22.19"/>
<rect class="c1" x="1215.11" y="400.18" width="25.59" height="22.19"/>
<rect class="c2" x="882.40" y="422.35" width="25.59" height="22.19"/>
<rect class="c0" x="907.99" y="422.35" width="153.56" height="22.19"/>
<rect class="c8" x="1061.55" y="422.35" width="25.59" height="22.19"/>
<rect class="c0" x="1087.14" y="422.35" width="153.56" height="22.19"/>
<rect class="c6" x="882.40" y="444.51" width="25.59" height="22.19"/>
<rect class="c0" x="907.99" y="444.51" width="25.59" height="22.19"/>
<rect class="c5" x="933.59" y="444.51" width="25.59" height="22.19"/>
<rect class="c4" x="959.18" y="444.51" width="25.59" height="22.19"/>
<rect class="c6" x="984.77" y="444.51" width="25.59" height="22.19"/>
<rect class="c1" x="1010.36" y="444.51" width="25.59" height="22.19"/>
<rect class="c0" x="1035.96" y="444.51" width="25.59" height="22.19"/>
<rect class="c7" x="1061.55" y="444.51" width="25.59" height="22.19"/>
<rect class="c1" x="1087.14" y="444.51" width="51.19" height="22.19"/>
<rect class="c2" x="1138.33" y="444.51" width="25.59" height="22.19"/>
<rect class="c0" x="1163.92" y="444.51" width="25.59" height="22.19"/>
<rect class="c1" x="1189.51" y="444.51" width="51.19" height="22.19"/>
<rect class="c0" x="882.40" y="466.68" width="153.56" height="22.19"/>
<rect class="c5" x="1035.96" y="466.68" width="25.59" height="22.19"/>
<rect class="c0" x="1061.55" y="466.68" width="179.15" height="22.19"/>
<rect class="c2" x="882.40" y="488.84" width="25.59" height="22.19"/>
<rect class="c0" x="907.99" y="488.84" width="102.37" height="22.19"/>
<rect class="c2" x="1010.36" y="488.84" width="25.59" height="22.19"/>
<rect class="c4" x="1035.96" y="488.84" width="25.59" height="22.19"/>
<rect class="c5" x="1061.55" y="488.84" width="25.59" height="22.19"/>
<rect class="c1" x="1087.14" y="488.84" width="25.59" height="22.19"/>
<rect class="c0" x="1112.74" y="488.84" width="127.96" height="22.19"/>
<rect class="c11" x="882.40" y="511.01" width="25.59" height="22.19"/>
<rect class="c2" x="907.99" y="511.01" width="51.19" height="22.19"/>
<rect class="c1" x="959.18" y="511.01" width="25.59" height="22.19"/>
<rect class="c0" x="984.77" y="511.01" width="25.59" height="22.19"/>
<rect class="c2" x="1010.36" y="511.01" width="25.59" height="22.19"/>
<rect class="c8" x="1035.96" y="511.01" width="25.59" height="22.19"/>
<rect class="c13" x="1061.55" y="511.01" width="25.59" height="22.19"/>
<rect class="c14" x="1087.14" y="511.01" width="25.59" height="22.19"/>
<rect class="c0" x="1112.74" y="511.01" width="25.59" height="22.19"/>
<rect class="c2" x="1138.33" y="511.01" width="51.19" height="22.19"/>
<rect class="c0" x="1189.51" y="511.01" width="51.19" height="22.19"/>
<rect class="c8" x="882.40" y="533.17" width="25.59" height="22.19"/>
<rect class="c1" x="907.99" y="533.17" width="76.78" height="22.19"/>
<rect class="c0" x="984.77" y="533.17" width="25.59" height="22.19"/>
<rect class="c7" x="1010.36" y="533.17" width="25.59" height="22.19"/>
<rect class="c10" x="1035.96" y="533.17" width="25.59" height="22.19"/>
<rect class="c11" x="1061.55" y="533.17" width="25.59" height="22.19"/>
<rect class="c9" x="1087.14" y="533.17" width="25.59" height="22.19"/>
<rect class="c0" x="1112.74" y="533.17" width="25.59" height="22.19"/>
<rect class="c1" x="1138.33" y="533.17" width="51.19" height="22.19"/>
<rect class="c0" x="1189.51" y="533.17" width="51.19" height="22.19"/>
<rect class="c4" x="882.40" y="555.34" width="25.59" height="22.19"/>
<rect class="c0" x="907.99" y="555.34" width="25.59" height="22.19"/>
<rect class="c2" x="933.59" y="555.34" width="25.59" height="22.19"/>
<rect class="c6" x="959.18" y="555.34" width="25.59" height="22.19"/>
<rect class="c7" x="984.77" y="555.34" width="25.59" height="22.19"/>
<rect class="c5" x="1010.36" y="555.34" width="25.59" height="22.19"/>
<rect class="c0" x="1035.96" y="555.34" width="51.19" height="22.19"/>
<rect class="c7" x="1087.14" y="555.34" width="25.59" height="22.19"/>
<rect class="c8" x="1112.74" y="555.34" width="25.59" height="22.19"/>
<rect class="c9" x="1138.33" y="555.34" width="25.59" height="22.19"/>
<rect class="c0" x="1163.92" y="555.34" width="25.59" height="22.19"/>
<rect class="c14" x="1189.51" y="555.34" width="25.59" height="22.19"/>
<rect class="c6" x="1215.11" y="555.34" width="25.59" height="22.19"/>
<rect class="c2" x="882.40" y="577.50" width="25.59" height="22.19"/>
<rect class="c7" x="907.99" y="577.50" width="76.78" height="22.19"/>
<rect class="c5" x="984.77" y="577.50" width="25.59" height="22.19"/>
<rect class="c2" x="1010.36" y="577.50" width="76.78" height="22.19"/>
<rect class="c7" x="1087.14" y="577.50" width="76.78" height="22.19"/>
<rect class="c14" x="1163.92" y="577.50" width="25.59" height="22.19"/>
<rect class="c5" x="1189.51" y="577.50" width="25.59" height="22.19"/>
<rect class="c4" x="1215.11" y="577.50" width="25.59" height="22.19"/>
<rect class="c0" x="882.40" y="599.67" width="25.59" height="22.19"/>
<rect class="c4" x="907.99" y="599.67" width="25.59" height="22.19"/>
<rect class="c5" x="933.59" y="599.67" width="25.59" height="22.19"/>
<rect class="c8" x="959.18" y="599.67" width="25.59" height="22.19"/>
<rect class="c4" x="984.77" y="599.67" width="25.59" height="22.19"/>
<rect class="c7" x="1010.36" y="599.67" width="25.59" height="22.19"/>
<rect class="c0" x="1035.96" y="599.67" width="51.19" height="22.19"/>
<rect class="c7" x="1087.14" y="599.67" width="25.59" height="22.19"/>
<rect class="c4" x="1112.74" y="599.67" width="25.59" height="22.19"/>
<rect class="c10" x="1138.33" y="599.67" width="25.59" height="22.19"/>
<rect class="c14" x="1163.92" y="599.67" width="25.59" height="22.19"/>
<rect class="c6" x="1189.51" y="599.67" width="51.19" height="22.19"/>
<rect class="c2" x="882.40" y="621.83" width="25.59" height="22.19"/>
<rect class="c1" x="907.99" y="621.83" width="76.78" height="22.19"/>
<rect class="c5" x="984.77" y="621.83" width="25.59" height="22.19"/>
<rect class="c1" x="1010.36" y="621.83" width="25.59" height="22.19"/>
<rect class="c2" x="1035.96" y="621.83" width="51.19" height="22.19"/>
<rect class="c7" x="1087.14" y="621.83" width="25.59" height="22.19"/>
<rect class="c0" x="1112.74" y="621.83" width="25.59" height="22.19"/>
<rect class="c1" x="1138.33" y="621.83" width="25.59" height="22.19"/>
<rect class="c14" x="1163.92" y="621.83" width="25.59" height="22.19"/>
<rect class="c4" x="1189.51" y="621.83" width="25.59" height="22.19"/>
<rect class="c0" x="1215.11" y="621.83" width="25.59" height="22.19"/>
<rect class="c0" x="882.40" y="644.00" width="25.59" height="22.19"/>
<rect class="c2" x="907.99" y="644.00" width="25.59" height="22.19"/>
<rect class="c4" x="933.59" y="644.00" width="51.19" height="22.19"/>
<rect class="c5" x="984.77" y="644.00" width="51.19" height="22.19"/>
<rect class="c0" x="1035.96" y="644.00" width="51.19" height="22.19"/>
<rect class="c6" x="1087.14" y="644.00" width="76.78" height="22.19"/>
<rect class="c14" x="1163.92" y="644.00" width="25.59" height="22.19"/>
<rect class="c2" x="1189.51" y="644.00" width="51.19" height="22.19"/>
<rect class="c0" x="882.40" y="666.17" width="25.59" height="22.19"/>
<rect class="c5" x="907.99" y="666.17" width="25.59" height="22.19"/>
<rect class="c0" x="933.59" y="666.17" width="25.59" height="22.19"/>
<rect class="c2" x="959.18" y="666.17" width="51.19" height="22.19"/>
<rect class="c0" x="1010.36" y="666.17" width="76.78" height="22.19"/>
<rect class="c6" x="1087.14" y="666.17" width="25.59" height="22.19"/>
<rect class="c2" x="1112.74" y="666.17" width="25.59" height="22.19"/>
<rect class="c5" x="1138.33" y="666.17" width="25.59" height="22.19"/>
<rect class="c14" x="1163.92" y="666.17" width="25.59" height="22.19"/>
<rect class="c4" x="1189.51" y="666.17" width="25.59" height="22.19"/>
<rect class="c2" x="1215.11" y="666.17" width="25.59" height="22.19"/>
<rect class="c0" x="882.40" y="688.33" width="25.59" height="22.19"/>
<rect class="c5" x="907.99" y="688.33" width="25.59" height="22.19"/>
<rect class="c0" x="933.59" y="688.33" width="25.59" height="22.19"/>
<rect class="c2" x="959.18" y="688.33" width="51.19" height="22.19"/>
<rect class="c0" x="1010.36" y="688.33" width="76.78" height="22.19"/>
<rect class="c6" x="1087.14" y="688.33" width="25.59" height="22.19"/>
<rect class="c2" x="1112.74" y="688.33" width="25.59" height="22.19"/>
<rect class="c5" x="1138.33" y="688.33" width="25.59" height="22.19"/>
<rect class="c14" x="1163.92" y="688.33" width="25.59" height="22.19"/>
<rect class="c4" x="1189.51" y="688.33" width="25.59" height="22.19"/>
<rect class="c2" x="1215.11" y="688.33" width="25.59" height="22.19"/>
<rect class="c0" x="882.40" y="710.50" width="25.59" height="22.19"/>
<rect class="c2" x="907.99" y="710.50" width="25.59" height="22.19"/>
<rect class="c4" x="933.59" y="710.50" width="76.78" height="22.19"/>
<rect class="c0" x="1010.36" y="710.50" width="76.78" height="22.19"/>
<rect class="c7" x="1087.14" y="710.50" width="25.59" height="22.19"/>
<rect class="c2" x="1112.74" y="710.50" width="25.59" height="22.19"/>
<rect class="c7" x="1138.33" y="710.50" width="25.59" height="22.19"/>
<rect class="c14" x="1163.92" y="710.50" width="25.59" height="22.19"/>
<rect class="c4" x="1189.51" y="710.50" width="25.59" height="22.19"/>
<rect class="c2" x="1215.11" y="710.50" width="25.59" height="22.19"/>
<rect class="c0" x="882.40" y="732.66" width="25.59" height="22.19"/>
<rect class="c5" x="907.99" y="732.66" width="25.59" height="22.19"/>
<rect class="c2" x="933.59" y="732.66" width="102.37" height="22.19"/>
<rect class="c1" x="1035.96" y="732.66" width="25.59" height="22.19"/>
<rect class="c2" x="1061.55" y="732.66" width="25.59" height="22.19"/>
<rect class="c6" x="1087.14" y="732.66" width="25.59" height="22.19"/>
<rect class="c0" x="1112.74" y="732.66" width="25.59" height="22.19"/>
<rect class="c6" x="1138.33" y="732.66" width="25.59" height="22.19"/>
<rect class="c14" x="1163.92" y="732.66" width="25.59" height="22.19"/>
<rect class="c4" x="1189.51" y="732.66" width="25.59" height="22.19"/>
<rect class="c2" x="1215.11" y="732.66" width="25.59" height="22.19"/>
<rect class="c0" x="882.40" y="754.83" width="51.19" height="22.19"/>
<rect class="c7" x="933.59" y="754.83" width="25.59" height="22.19"/>
<rect class="c0" x="959.18" y="754.83" width="25.59" height="22.19"/>
<rect class="c6" x="984.77" y="754.83" width="25.59" height="22.19"/>
<rect class="c4" x="1010.36" y="754.83" width="25.59" height="22.19"/>
<rect class="c0" x="1035.96" y="754.83" width="76.78" height="22.19"/>
<rect class="c1" x="1112.74" y="754.83" width="25.59" height="22.19"/>
<rect class="c2" x="1138.33" y="754.83" width="25.59" height="22.19"/>
<rect class="c14" x="1163.92" y="754.83" width="25.59" height="22.19"/>
<rect class="c2" x="1189.51" y="754.83" width="25.59" height="22.19"/>
<rect class="c1" x="1215.11" y="754.83" width="25.59" height="22.19"/>
<rect class="c2" x="882.40" y="776.99" width="25.59" height="22.19"/>
<rect class="c9" x="907.99" y="776.99" width="25.59" height="22.19"/>
<rect class="c8" x="933.59" y="776.99" width="25.59" height="22.19"/>
<rect class="c7" x="959.18" y="776.99" width="25.59" height="22.19"/>
<rect class="c5" x="984.77" y="776.99" width="25.59" height="22.19"/>
<rect class="c6" x="1010.36" y="776.99" width="25.59" height="22.19"/>
<rect class="c5" x="1035.96" y="776.99" width="25.59" height="22.19"/>
<rect class="c0" x="1061.55" y="776.99" width="25.59" height="22.19"/>
<rect class="c8" x="1087.14" y="776.99" width="25.59" height="22.19"/>
<rect class="c4" x="1112.74" y="776.99" width="25.59" height="22.19"/>
<rect class="c6" x="1138.33" y="776.99" width="25.59" height="22.19"/>
<rect class="c14" x="1163.92" y="776.99" width="25.59" height="22.19"/>
<rect class="c5" x="1189.51" y="776.99" width="51.19" height="22.19"/>
<rect class="c2" x="882.40" y="799.16" width="25.59" height="22.19"/>
<rect class="c8" x="907.99" y="799.16" width="25.59" height="22.19"/>
<rect class="c7" x="933.59" y="799.16" width="51.19" height="22.19"/>
<rect class="c5" x="984.77" y="799.16" width="25.59" height="22.19"/>
<rect class="c6" x="1010.36" y="799.16" width="25.59" height="22.19"/>
<rect class="c2" x="1035.96" y="799.16" width="25.59" height="22.19"/>
<rect class="c0" x="1061.55" y="799.16" width="25.59" height="22.19"/>
<rect class="c8" x="1087.14" y="799.16" width="25.59" height="22.19"/>
<rect class="c4" x="1112.74" y="799.16" width="25.59" height="22.19"/>
<rect class="c7" x="1138.33" y="799.16" width="25.59" height="22.19"/>
<rect class="c8" x="1163.92" y="799.16" width="25.59" height="22.19"/>
<rect class="c7" x="1189.51" y="799.16" width="51.19" height="22.19"/>
<rect class="c2" x="882.40" y="821.32" width="25.59" height="22.19"/>
<rect class="c7" x="907.99" y="821.32" width="25.59" height="22.19"/>
<rect class="c1" x="933.59" y="821.32" width="51.19" height="22.19"/>
<rect class="c5" x="984.77" y="821.32" width="25.59" height="22.19"/>
<rect class="c1" x="1010.36" y="821.32" width="25.59" height="22.19"/>
<rect class="c2" x="1035.96" y="821.32" width="51.19" height="22.19"/>
<rect class="c14" x="1087.14" y="821.32" width="25.59" height="22.19"/>
<rect class="c4" x="1112.74" y="821.32" width="25.59" height="22.19"/>
<rect class="c1" x="1138.33" y="821.32" width="25.59" height="22.19"/>
<rect class="c10" x="1163.92" y="821.32" width="25.59" height="22.19"/>
<rect class="c5" x="1189.51" y="821.32" width="25.59" height="22.19"/>
<rect class="c7" x="1215.11" y="821.32" width="25.59" height="22.19"/>
<rect class="c1" x="882.40" y="843.49" width="25.59" height="22.19"/>
<rect class="c4" x="907.99" y="843.49" width="25.59" height="22.19"/>
<rect class="c5" x="933.59" y="843.49" width="25.59" height="22.19"/>
<rect class="c2" x="959.18" y="843.49" width="25.59" height="22.19"/>
<rect class="c4" x="984.77" y="843.49" width="51.19" height="22.19"/>
<rect class="c0" x="1035.96" y="843.49" width="51.19" height="22.19"/>
<rect class="c8" x="1087.14" y="843.49" width="25.59" height="22.19"/>
<rect class="c4" x="1112.74" y="843.49" width="25.59" height="22.19"/>
<rect class="c2" x="1138.33" y="843.49" width="25.59" height="22.19"/>
<rect class="c10" x="1163.92" y="843.49" width="25.59" height="22.19"/>
<rect class="c8" x="1189.51" y="843.49" width="25.59" height="22.19"/>
<rect class="c6" x="1215.11" y="843.49" width="25.59" height="22.19"/>
<rect class="c0" x="882.40" y="865.65" width="51.19" height="22.19"/>
<rect class="c1" x="933.59" y="865.65" width="76.78" height="22.19"/>
<rect class="c4" x="1010.36" y="865.65" width="25.59" height="22.19"/>
<rect class="c0" x="1035.96" y="865.65" width="51.19" height="22.19"/>
<rect class="c2" x="1087.14" y="865.65" width="51.19" height="22.19"/>
<rect class="c1" x="1138.33" y="865.65" width="25.59" height="22.19"/>
<rect class="c5" x="1163.92" y="865.65" width="25.59" height="22.19"/>
<rect class="c1" x="1189.51" y="865.65" width="25.59" height="22.19"/>
<rect class="c4" x="1215.11" y="865.65" width="25.59" height="22.19"/>
<rect class="c1" x="882.40" y="887.82" width="51.19" height="22.19"/>
<rect class="c5" x="933.59" y="887.82" width="25.59" height="22.19"/>
<rect class="c4" x="959.18" y="887.82" width="25.59" height="22.19"/>
<rect class="c5" x="984.77" y="887.82" width="25.59" height="22.19"/>
<rect class="c1" x="1010.36" y="887.82" width="25.59" height="22.19"/>
<rect class="c2" x="1035.96" y="887.82" width="51.19" height="22.19"/>
<rect class="c1" x="1087.14" y="887.82" width="25.59" height="22.19"/>
<rect class="c0" x="1112.74" y="887.82" width="25.59" height="22.19"/>
<rect class="c5" x="1138.33" y="887.82" width="25.59" height="22.19"/>
<rect class="c1" x="1163.92" y="887.82" width="25.59" height="22.19"/>
<rect class="c0" x="1189.51" y="887.82" width="51.19" height="22.19"/>
<rect class="c4" x="882.40" y="909.98" width="25.59" height="22.19"/>
<rect class="c7" x="907.99" y="909.98" width="25.59" height="22.19"/>
<rect class="c8" x="933.59" y="909.98" width="51.19" height="22.19"/>
<rect class="c0" x="984.77" y="909.98" width="25.59" height="22.19"/>
<rect class="c2" x="1010.36" y="909.98" width="25.59" height="22.19"/>
<rect class="c4" x="1035.96" y="909.98" width="25.59" height="22.19"/>
<rect class="c5" x="1061.55" y="909.98" width="25.59" height="22.19"/>
<rect class="c7" x="1087.14" y="909.98" width="25.59" height="22.19"/>
<rect class="c4" x="1112.74" y="909.98" width="25.59" height="22.19"/>
<rect class="c2" x="1138.33" y="909.98" width="51.19" height="22.19"/>
<rect class="c0" x="1189.51" y="909.98" width="25.59" height="22.19"/>
<rect class="c6" x="1215.11" y="909.98" width="25.59" height="22.19"/>
<rect class="c2" x="882.40" y="932.15" width="25.59" height="22.19"/>
<rect class="c1" x="907.99" y="932.15" width="51.19" height="22.19"/>
<rect class="c8" x="959.18" y="932.15" width="25.59" height="22.19"/>
<rect class="c6" x="984.77" y="932.15" width="25.59" height="22.19"/>
<rect class="c2" x="1010.36" y="932.15" width="76.78" height="22.19"/>
<rect class="c1" x="1087.14" y="932.15" width="25.59" height="22.19"/>
<rect class="c4" x="1112.74" y="932.15" width="25.59" height="22.19"/>
<rect class="c5" x="1138.33" y="932.15" width="25.59" height="22.19"/>
<rect class="c1" x="1163.92" y="932.15" width="25.59" height="22.19"/>
<rect class="c5" x="1189.51" y="932.15" width="25.59" height="22.19"/>
<rect class="c7" x="1215.11" y="932.15" width="25.59" height="22.19"/>
<rect class="c1" x="882.40" y="954.32" width="25.59" height="22.19"/>
<rect class="c4" x="907.99" y="954.32" width="25.59" height="22.19"/>
<rect class="c1" x="933.59" y="954.32" width="25.59" height="22.19"/>
<rect class="c7" x="959.18" y="954.32" width="25.59" height="22.19"/>
<rect class="c5" x="984.77" y="954.32" width="25.59" height="22.19"/>
<rect class="c2" x="1010.36" y="954.32" width="76.78" height="22.19"/>
<rect class="c5" x="1087.14" y="954.32" width="25.59" height="22.19"/>
<rect class="c4" x="1112.74" y="954.32" width="25.59" height="22.19"/>
<rect class="c5" x="1138.33" y="954.32" width="25.59" height="22.19"/>
<rect class="c1" x="1163.92" y="954.32" width="25.59" height="22.19"/>
<rect class="c2" x="1189.51" y="954.32" width="25.59" height="22.19"/>
<rect class="c7" x="1215.11" y="954.32" width="25.59" height="22.19"/>
<rect class="c9" x="882.40" y="976.48" width="25.59" height="22.19"/>
<rect class="c2" x="907.99" y="976.48" width="51.19" height="22.19"/>
<rect class="c1" x="959.18" y="976.48" width="25.59" height="22.19"/>
<rect class="c0" x="984.77" y="976.48" width="25.59" height="22.19"/>
<rect class="c2" x="1010.36" y="976.48" width="25.59" height="22.19"/>
<rect class="c4" x="1035.96" y="976.48" width="51.19" height="22.19"/>
<rect class="c1" x="1087.14" y="976.48" width="25.59" height="22.19"/>
<rect class="c4" x="1112.74" y="976.48" width="25.59" height="22.19"/>
<rect class="c1" x="1138.33" y="976.48" width="25.59" height="22.19"/>
<rect class="c2" x="1163.92" y="976.48" width="25.59" height="22.19"/>
<rect class="c0" x="1189.51" y="976.48" width="25.59" height="22.19"/>
<rect class="c7" x="1215.11" y="976.48" width="25.59" height="22.19"/>
<rect class="c2" x="882.40" y="998.65" width="25.59" height="22.19"/>
<rect class="c7" x="907.99" y="998.65" width="25.59" height="22.19"/>
<rect class="c2" x="933.59" y="998.65" width="25.59" height="22.19"/>
<rect class="c4" x="959.18" y="998.65" width="25.59" height="22.19"/>
<rect class="c0" x="984.77" y="998.65" width="25.59" height="22.19"/>
<rect class="c4" x="1010.36" y="998.65" width="25.59" height="22.19"/>
<rect class="c2" x="1035.96" y="998.65" width="25.59" height="22.19"/>
<rect class="c0" x="1061.55" y="998.65" width="25.59" height="22.19"/>
<rect class="c4" x="1087.14" y="998.65" width="25.59" height="22.19"/>
<rect class="c2" x="1112.74" y="998.65" width="25.59" height="22.19"/>
<rect class="c1" x="1138.33" y="998.65" width="25.59" height="22.19"/>
<rect class="c0" x="1163.92" y="998.65" width="25.59" height="22.19"/>
<rect class="c1" x="1189.51" y="998.65" width="25.59" height="22.19"/>
<rect class="c5" x="1215.11" y="998.65" width="25.59" height="22.19"/>
<rect class="c1" x="882.40" y="1020.81" width="51.19" height="22.19"/>
<rect class="c0" x="933.59" y="1020.81" width="25.59" height="22.19"/>
<rect class="c5" x="959.18" y="1020.81" width="25.59" height="22.19"/>
<rect class="c4" x="984.77" y="1020.81" width="25.59" height="22.19"/>
<rect class="c1" x="1010.36" y="1020.81" width="25.59" height="22.19"/>
<rect class="c2" x="1035.96" y="1020.81" width="51.19" height="22.19"/>
<rect class="c0" x="1087.14" y="1020.81" width="25.59" height="22.19"/>
<rect class="c4" x="1112.74" y="1020.81" width="25.59" height="22.19"/>
<rect class="c5" x="1138.33" y="1020.81" width="25.59" height="22.19"/>
<rect class="c7" x="1163.92" y="1020.81" width="25.59" height="22.19"/>
<rect class="c5" x="1189.51" y="1020.81" width="25.59" height="22.19"/>
<rect class="c7" x="1215.11" y="1020.81" width="25.59" height="22.19"/>
<rect class="c2" x="882.40" y="1042.98" width="25.59" height="22.19"/>
<rect class="c4" x="907.99" y="1042.98" width="25.59" height="22.19"/>
<rect class="c2" x="933.59" y="1042.98" width="25.59" height="22.19"/>
<rect class="c5" x="959.18" y="1042.98" width="25.59" height="22.19"/>
<rect class="c1" x="984.77" y="1042.98" width="25.59" height="22.19"/>
<rect class="c2" x="1010.36" y="1042.98" width="25.59" height="22.19"/>
<rect class="c4" x="1035.96" y="1042.98" width="25.59" height="22.19"/>
<rect class="c5" x="1061.55" y="1042.98" width="51.19" height="22.19"/>
<rect class="c1" x="1112.74" y="1042.98" width="25.59" height="22.19"/>
<rect class="c6" x="1138.33" y="1042.98" width="25.59" height="22.19"/>
<rect class="c5" x="1163.92" y="1042.98" width="25.59" height="22.19"/>
<rect class="c2" x="1189.51" y="1042.98" width="51.19" height="22.19"/>
<rect class="c2" x="882.40" y="1065.14" width="25.59" height="22.19"/>
<rect class="c5" x="907.99" y="1065.14" width="25.59" height="22.19"/>
<rect class="c4" x="933.59" y="1065.14" width="51.19" height="22.19"/>
<rect class="c0" x="984.77" y="1065.14" width="25.59" height="22.19"/>
<rect class="c1" x="1010.36" y="1065.14" width="25.59" height="22.19"/>
<rect class="c2" x="1035.96" y="1065.14" width="51.19" height="22.19"/>
<rect class="c5" x="1087.14" y="1065.14" width="25.59" height="22.19"/>
<rect class="c1" x="1112.74" y="1065.14" width="25.59" height="22.19"/>
<rect class="c5" x="1138.33" y="1065.14" width="51.19" height="22.19"/>
<rect class="c1" x="1189.51" y="1065.14" width="25.59" height="22.19"/>
<rect class="c2" x="1215.11" y="1065.14" width="25.59" height="22.19"/>
<rect class="c0" x="882.40" y="1087.31" width="51.19" height="22.19"/>
<rect class="c4" x="933.59" y="1087.31" width="25.59" height="22.19"/>
<rect class="c2" x="959.18" y="1087.31" width="76.78" height="22.19"/>
<rect class="c0" x="1035.96" y="1087.31" width="51.19" height="22.19"/>
<rect class="c6" x="1087.14" y="1087.31" width="25.59" height="22.19"/>
<rect class="c4" x="1112.74" y="1087.31" width="25.59" height="22.19"/>
<rect class="c6" x="1138.33" y="1087.31" width="25.59" height="22.19"/>
<rect class="c0" x="1163.92" y="1087.31" width="25.59" height="22.19"/>
<rect class="c5" x="1189.51" y="1087.31" width="25.59" height="22.19"/>
<rect class="c1" x="1215.11" y="1087.31" width="25.59" height="22.19"/>
<rect class="c2" x="882.40" y="1109.47" width="25.59" height="22.19"/>
<rect class="c1" x="907.99" y="1109.47" width="51.19" height="22.19"/>
<rect class="c4" x="959.18" y="1109.47" width="25.59" height="22.19"/>
<rect class="c0" x="984.77" y="1109.47" width="25.59" height="22.19"/>
<rect class="c1" x="1010.36" y="1109.47" width="25.59" height="22.19"/>
<rect class="c2" x="1035.96" y="1109.47" width="51.19" height="22.19"/>
<rect class="c1" x="1087.14" y="1109.47" width="25.59" height="22.19"/>
<rect class="c0" x="1112.74" y="1109.47" width="25.59" height="22.19"/>
<rect class="c1" x="1138.33" y="1109.47" width="51.19" height="22.19"/>
<rect class="c0" x="1189.51" y="1109.47" width="51.19" height="22.19"/>
<rect class="c1" x="882.40" y="1131.64" width="25.59" height="22.19"/>
<rect class="c7" x="907.99" y="1131.64" width="25.59" height="22.19"/>
<rect class="c1" x="933.59" y="1131.64" width="51.19" height="22.19"/>
<rect class="c0" x="984.77" y="1131.64" width="25.59" height="22.19"/>
<rect class="c1" x="1010.36" y="1131.64" width="25.59" height="22.19"/>
<rect class="c2" x="1035.96" y="1131.64" width="51.19" height="22.19"/>
<rect class="c1" x="1087.14" y="1131.64" width="25.59" height="22.19"/>
<rect class="c0" x="1112.74" y="1131.64" width="25.59" height="22.19"/>
<rect class="c1" x="1138.33" y="1131.64" width="51.19" height="22.19"/>
<rect class="c0" x="1189.51" y="1131.64" width="51.19" height="22.19"/>
<rect class="c6" x="882.40" y="1153.80" width="25.59" height="22.19"/>
<rect class="c8" x="907.99" y="1153.80" width="25.59" height="22.19"/>
<rect class="c4" x="933.59" y="1153.80" width="25.59" height="22.19"/>
<rect class="c6" x="959.18" y="1153.80" width="25.59" height="22.19"/>
<rect class="c1" x="984.77" y="1153.80" width="25.59" height="22.19"/>
<rect class="c4" x="1010.36" y="1153.80" width="25.59" height="22.19"/>
<rect class="c2" x="1035.96" y="1153.80" width="25.59" height="22.19"/>
<rect class="c7" x="1061.55" y="1153.80" width="25.59" height="22.19"/>
<rect class="c5" x="1087.14" y="1153.80" width="25.59" height="22.19"/>
<rect class="c0" x="1112.74" y="1153.80" width="25.59" height="22.19"/>
<rect class="c5" x="1138.33" y="1153.80" width="51.19" height="22.19"/>
<rect class="c1" x="1189.51" y="1153.80" width="25.59" height="22.19"/>
<rect class="c4" x="1215.11" y="1153.80" width="25.59" height="22.19"/>
<rect class="c0" x="882.40" y="1175.97" width="25.59" height="22.19"/>
<rect class="c8" x="907.99" y="1175.97" width="25.59" height="22.19"/>
<rect class="c2" x="933.59" y="1175.97" width="25.59" height="22.19"/>
<rect class="c5" x="959.18" y="1175.97" width="25.59" height="22.19"/>
<rect class="c1" x="984.77" y="1175.97" width="51.19" height="22.19"/>
<rect class="c2" x="1035.96" y="1175.97" width="25.59" height="22.19"/>
<rect class="c4" x="1061.55" y="1175.97" width="25.59" height="22.19"/>
<rect class="c5" x="1087.14" y="1175.97" width="25.59" height="22.19"/>
<rect class="c1" x="1112.74" y="1175.97" width="25.59" height="22.19"/>
<rect class="c5" x="1138.33" y="1175.97" width="25.59" height="22.19"/>
<rect class="c4" x="1163.92" y="1175.97" width="25.59" height="22.19"/>
<rect class="c1" x="1189.51" y="1175.97" width="25.59" height="22.19"/>
<rect class="c2" x="1215.11" y="1175.97" width="25.59" height="22.19"/>
<rect class="c1" x="882.40" y="1198.13" width="51.19" height="22.19"/>
<rect class="c6" x="933.59" y="1198.13" width="25.59" height="22.19"/>
<rect class="c0" x="959.18" y="1198.13" width="51.19" height="22.19"/>
<rect class="c1" x="1010.36" y="1198.13" width="51.19" height="22.19"/>
<rect class="c0" x="1061.55" y="1198.13" width="25.59" height="22.19"/>
<rect class="c8" x="1087.14" y="1198.13" width="25.59" height="22.19"/>
<rect class="c0" x="1112.74" y="1198.13" width="25.59" height="22.19"/>
<rect class="c9" x="1138.33" y="1198.13" width="25.59" height="22.19"/>
<rect class="c0" x="1163.92" y="1198.13" width="76.78" height="22.19"/>
</g>
<rect x="417.30" y="2.10" width="153.45" height="24.00" fill="#BEBEBE"/>
<rect x="570.70" y="2.10" width="153.45" height="24.00" fill="#000000"/>
<rect x="724.10" y="2.10" width="153.45" height="24.00" fill="#FF0000"/>
<rect x="882.40" y="2.10" width="51.24" height="24.00" fill="#BEBEBE"/>
<rect x="933.59" y="2.10" width="153.61" height="24.00" fill="#000000"/>
<rect x="1087.14" y="2.10" width="153.61" height="24.00" fill="#FF0000"/>
<text x="411.90" y="21.90" text-anchor="end" font-size="21.05">Treatment</text>
<text x="647.40" y="52.90" text-anchor="middle" font-size="22.5">HFD_L</text>
<text x="1061.55" y="52.90" text-anchor="middle" font-size="22.5">Chow</text>
<text x="411.70" y="86.08" text-anchor="end" font-size="20.9">Lactobacillus</text>
<text x="411.70" y="108.25" text-anchor="end" font-size="20.9">Ligilactobacillus</text>
<text x="411.70" y="130.41" text-anchor="end" font-size="20.9">Lachnospiraceae_UCG.006</text>
<text x="411.70" y="152.58" text-anchor="end" font-size="20.9">Rikenella</text>
<text x="411.70" y="174.74" text-anchor="end" font-size="20.9">Turicibacter</text>
<text x="411.70" y="196.91" text-anchor="end" font-size="20.9">Shuttleworthia</text>
<text x="411.70" y="219.07" text-anchor="end" font-size="20.9">Intestinimonas</text>
<text x="411.70" y="241.24" text-anchor="end" font-size="20.9">Mucispirillum</text>
<text x="411.70" y="263.41" text-anchor="end" font-size="20.9">Parabacteroides</text>
<text x="411.70" y="285.57" text-anchor="end" font-size="20.9">Romboutsia</text>
<text x="411.70" y="307.74" text-anchor="end" font-size="20.9">Streptococcus</text>
<text x="411.70" y="329.90" text-anchor="end" font-size="20.9">Peptococcus</text>
<text x="411.70" y="352.07" text-anchor="end" font-size="20.9">Ruminococcus_gnavus_group</text>
<text x="411.70" y="374.23" text-anchor="end" font-size="20.9">Ruminococcus.1</text>
<text x="411.70" y="396.40" text-anchor="end" font-size="20.9">Candidatus_Saccharimonas</text>
<text x="411.70" y="418.56" text-anchor="end" font-size="20.9">Paludicola</text>
<text x="411.70" y="440.73" text-anchor="end" font-size="20.9">Clostridium_sensu_stricto_1</text>
<text x="411.70" y="462.89" text-anchor="end" font-size="20.9">Rikenellaceae_RC9_gut_group</text>
<text x="411.70" y="485.06" text-anchor="end" font-size="20.9">Desulfovibrio</text>
<text x="411.70" y="507.22" text-anchor="end" font-size="20.9">Dubosiella</text>
<text x="411.70" y="529.39" text-anchor="end" font-size="20.9">Lawsonella</text>
<text x="411.70" y="551.56" text-anchor="end" font-size="20.9">Cutibacterium</text>
<text x="411.70" y="573.72" text-anchor="end" font-size="20.9">Eubacterium_siraeum_group</text>
<text x="411.70" y="595.89" text-anchor="end" font-size="20.9">Lachnospi_NK4A136_group</text>
<text x="411.70" y="618.05" text-anchor="end" font-size="20.9">A2</text>
<text x="411.70" y="640.22" text-anchor="end" font-size="20.9">Oscillospira</text>
<text x="411.70" y="662.38" text-anchor="end" font-size="20.9">ASF356</text>
<text x="411.70" y="684.55" text-anchor="end" font-size="20.9">Butyricicoccus</text>
<text x="411.70" y="706.71" text-anchor="end" font-size="20.9">Bilophila</text>
<text x="411.70" y="728.88" text-anchor="end" font-size="20.9">Marvinbryantia</text>
<text x="411.70" y="751.04" text-anchor="end" font-size="20.9">Lachnospiraceae_UCG.001</text>
<text x="411.70" y="773.21" text-anchor="end" font-size="20.9">Anaeroplasma</text>
<text x="411.70" y="795.38" text-anchor="end" font-size="20.9">Muribaculum</text>
<text x="411.70" y="817.54" text-anchor="end" font-size="20.9">Parasutterella</text>
<text x="411.70" y="839.71" text-anchor="end" font-size="20.9">Acetatifactor</text>
<text x="411.70" y="861.87" text-anchor="end" font-size="20.9">Prevotellaceae_UCG.001</text>
<text x="411.70" y="884.04" text-anchor="end" font-size="20.9">Tuzzerella</text>
<text x="411.70" y="906.20" text-anchor="end" font-size="20.9">Monoglobus</text>
<text x="411.70" y="928.37" text-anchor="end" font-size="20.9">Erysipelatoclostridium</text>
<text x="411.70" y="950.53" text-anchor="end" font-size="20.9">Defluviitaleaceae_UCG.011</text>
<text x="411.70" y="972.70" text-anchor="end" font-size="20.9">Christensenellaceae_R.7_group</text>
<text x="411.70" y="994.86" text-anchor="end" font-size="20.9">Parvibacter</text>
<text x="411.70" y="1017.03" text-anchor="end" font-size="20.9">Akkermansia</text>
<text x="411.70" y="1039.19" text-anchor="end" font-size="20.9">Eubacterium_brachy_group</text>
<text x="411.70" y="1061.36" text-anchor="end" font-size="20.9">Faecalibaculum</text>
<text x="411.70" y="1083.52" text-anchor="end" font-size="20.9">Enterorhabdus</text>
<text x="411.70" y="1105.69" text-anchor="end" font-size="20.9">Ruminococcus</text>
<text x="411.70" y="1127.86" text-anchor="end" font-size="20.9">Jeotgalicoccus</text>
<text x="411.70" y="1150.02" text-anchor="end" font-size="20.9">Enterococcus</text>
<text x="411.70" y="1172.19" text-anchor="end" font-size="20.9">Bifidobacterium</text>
<text x="411.70" y="1194.35" text-anchor="end" font-size="20.9">Coriobacteriaceae_UCG.002</text>
<text x="411.70" y="1216.52" text-anchor="end" font-size="20.9">Lachnospiraceae_AC2044_group</text>
<text transform="translate(422.18 1225.60) rotate(90)" font-size="20.9">35</text>
<text transform="translate(447.75 1225.60) rotate(90)" font-size="20.9">34</text>
<text transform="translate(473.32 1225.60) rotate(90)" font-size="20.9">33</text>
<text transform="translate(498.88 1225.60) rotate(90)" font-size="20.9">32</text>
<text transform="translate(524.45 1225.60) rotate(90)" font-size="20.9">31</text>
<text transform="translate(550.02 1225.60) rotate(90)" font-size="20.9">30</text>
<text transform="translate(575.58 1225.60) rotate(90)" font-size="20.9">47</text>
<text transform="translate(601.15 1225.60) rotate(90)" font-size="20.9">46</text>
<text transform="translate(626.72 1225.60) rotate(90)" font-size="20.9">45</text>
<text transform="translate(652.28 1225.60) rotate(90)" font-size="20.9">44</text>
<text transform="translate(677.85 1225.60) rotate(90)" font-size="20.9">43</text>
<text transform="translate(703.42 1225.60) rotate(90)" font-size="20.9">42</text>
<text transform="translate(728.98 1225.60) rotate(90)" font-size="20.9">58</text>
<text transform="translate(754.55 1225.60) rotate(90)" font-size="20.9">57</text>
<text transform="translate(780.12 1225.60) rotate(90)" font-size="20.9">56</text>
<text transform="translate(805.68 1225.60) rotate(90)" font-size="20.9">55</text>
<text transform="translate(831.25 1225.60) rotate(90)" font-size="20.9">54</text>
<text transform="translate(856.82 1225.60) rotate(90)" font-size="20.9">53</text>
<text transform="translate(887.30 1225.60) rotate(90)" font-size="20.9">2</text>
<text transform="translate(912.89 1225.60) rotate(90)" font-size="20.9">1</text>
<text transform="translate(938.48 1225.60) rotate(90)" font-size="20.9">8</text>
<text transform="translate(964.08 1225.60) rotate(90)" font-size="20.9">7</text>
<text transform="translate(989.67 1225.60) rotate(90)" font-size="20.9">6</text>
<text transform="translate(1015.26 1225.60) rotate(90)" font-size="20.9">11</text>
<text transform="translate(1040.85 1225.60) rotate(90)" font-size="20.9">10</text>
<text transform="translate(1066.45 1225.60) rotate(90)" font-size="20.9">9</text>
<text transform="translate(1092.04 1225.60) rotate(90)" font-size="20.9">23</text>
<text transform="translate(1117.63 1225.60) rotate(90)" font-size="20.9">22</text>
<text transform="translate(1143.22 1225.60) rotate(90)" font-size="20.9">21</text>
<text transform="translate(1168.82 1225.60) rotate(90)" font-size="20.9">20</text>
<text transform="translate(1194.41 1225.60) rotate(90)" font-size="20.9">19</text>
<text transform="translate(1220.00 1225.60) rotate(90)" font-size="20.9">18</text>
<text transform="translate(1306.00 643.00) rotate(90)" text-anchor="middle" font-size="21.3">small intestine</text>
<path d="M1242.70 78.78H1261.50V100.95H1242.70M1261.50 89.87H1270.70V123.11H1242.70M1242.70 145.28H1256.20V167.44H1242.70M1256.20 156.36H1265.10V189.61H1242.70M1270.70 106.49H1274.20V172.99H1265.10M1242.70 211.77H1267.20V233.94H1242.70M1242.70 278.27H1256.60V300.44H1242.70M1256.60 289.35H1265.90V322.60H1242.70M1242.70 256.11H1270.00V305.98H1265.90M1267.20 222.86H1277.40V281.04H1270.00M1274.20 139.74H1284.50V251.95H1277.40M1242.70 344.77H1243.10V366.93H1242.70M1242.70 389.10H1275.10V411.26H1242.70M1242.70 433.43H1262.10V455.59H1242.70M1242.70 477.76H1253.90V499.92H1242.70M1262.10 444.51H1266.80V488.84H1253.90M1275.10 400.18H1281.50V466.68H1266.80M1242.70 522.09H1253.90V544.26H1242.70M1242.70 677.25H1243.10V699.41H1242.70M1242.70 721.58H1246.20V743.74H1242.70M1243.10 688.33H1247.00V732.66H1246.20M1242.70 655.08H1248.20V710.50H1247.00M1242.70 632.92H1249.00V682.79H1248.20M1249.00 657.85H1249.80V765.91H1242.70M1242.70 588.59H1256.60V610.75H1242.70M1256.60 599.67H1258.00V711.88H1249.80M1242.70 788.08H1253.90V810.24H1242.70M1242.70 832.41H1253.90V854.57H1242.70M1253.90 799.16H1256.80V843.49H1253.90M1258.00 655.78H1262.70V821.32H1256.80M1242.70 876.74H1257.50V898.90H1242.70M1242.70 943.23H1247.70V965.40H1242.70M1242.70 921.07H1254.20V954.32H1247.70M1242.70 1054.06H1245.10V1076.22H1242.70M1245.10 1065.14H1246.40V1098.39H1242.70M1242.70 1120.56H1246.40V1142.72H1242.70M1246.40 1081.77H1249.00V1131.64H1246.40M1242.70 1031.89H1252.00V1106.70H1249.00M1242.70 1164.89H1247.70V1187.05H1242.70M1252.00 1069.30H1255.00V1175.97H1247.70M1242.70 1009.73H1256.00V1122.63H1255.00M1242.70 987.56H1257.00V1066.18H1256.00M1254.20 937.69H1258.00V1026.87H1257.00M1257.50 887.82H1258.60V982.28H1258.00M1258.60 935.05H1259.30V1209.22H1242.70M1262.70 738.55H1266.80V1072.13H1259.30M1242.70 566.42H1269.20V905.34H1266.80M1253.90 533.17H1276.20V735.88H1269.20M1281.50 433.43H1283.30V634.53H1276.20M1243.10 355.85H1286.20V533.98H1283.30M1284.50 195.84H1292.10V444.91H1286.20" fill="none" stroke="#3a3a3a" stroke-width="1.35"/>
<g shape-rendering="crispEdges">
<rect class="c8" x="424.00" y="1365.30" width="25.36" height="22.20"/>
<rect class="c7" x="449.36" y="1365.30" width="25.36" height="22.20"/>
<rect class="c9" x="474.72" y="1365.30" width="25.36" height="22.20"/>
<rect class="c7" x="500.08" y="1365.30" width="50.72" height="22.20"/>
<rect class="c14" x="550.79" y="1365.30" width="25.36" height="22.20"/>
<rect class="c9" x="576.15" y="1365.30" width="25.36" height="22.20"/>
<rect class="c8" x="601.51" y="1365.30" width="25.36" height="22.20"/>
<rect class="c9" x="626.87" y="1365.30" width="25.36" height="22.20"/>
<rect class="c6" x="652.23" y="1365.30" width="25.36" height="22.20"/>
<rect class="c7" x="677.59" y="1365.30" width="50.72" height="22.20"/>
<rect class="c6" x="728.31" y="1365.30" width="25.36" height="22.20"/>
<rect class="c7" x="753.66" y="1365.30" width="25.36" height="22.20"/>
<rect class="c9" x="779.02" y="1365.30" width="25.36" height="22.20"/>
<rect class="c7" x="804.38" y="1365.30" width="25.36" height="22.20"/>
<rect class="c6" x="829.74" y="1365.30" width="25.36" height="22.20"/>
<rect class="c8" x="424.00" y="1387.48" width="25.36" height="22.20"/>
<rect class="c14" x="449.36" y="1387.48" width="25.36" height="22.20"/>
<rect class="c7" x="474.72" y="1387.48" width="50.72" height="22.20"/>
<rect class="c5" x="525.44" y="1387.48" width="25.36" height="22.20"/>
<rect class="c7" x="550.79" y="1387.48" width="25.36" height="22.20"/>
<rect class="c8" x="576.15" y="1387.48" width="25.36" height="22.20"/>
<rect class="c0" x="601.51" y="1387.48" width="25.36" height="22.20"/>
<rect class="c7" x="626.87" y="1387.48" width="25.36" height="22.20"/>
<rect class="c8" x="652.23" y="1387.48" width="25.36" height="22.20"/>
<rect class="c10" x="677.59" y="1387.48" width="25.36" height="22.20"/>
<rect class="c8" x="702.95" y="1387.48" width="25.36" height="22.20"/>
<rect class="c6" x="728.31" y="1387.48" width="25.36" height="22.20"/>
<rect class="c7" x="753.66" y="1387.48" width="25.36" height="22.20"/>
<rect class="c8" x="779.02" y="1387.48" width="25.36" height="22.20"/>
<rect class="c6" x="804.38" y="1387.48" width="25.36" height="22.20"/>
<rect class="c12" x="829.74" y="1387.48" width="25.36" height="22.20"/>
<rect class="c6" x="424.00" y="1409.65" width="50.72" height="22.20"/>
<rect class="c2" x="474.72" y="1409.65" width="25.36" height="22.20"/>
<rect class="c8" x="500.08" y="1409.65" width="25.36" height="22.20"/>
<rect class="c7" x="525.44" y="1409.65" width="25.36" height="22.20"/>
<rect class="c0" x="550.79" y="1409.65" width="25.36" height="22.20"/>
<rect class="c6" x="576.15" y="1409.65" width="25.36" height="22.20"/>
<rect class="c5" x="601.51" y="1409.65" width="25.36" height="22.20"/>
<rect class="c14" x="626.87" y="1409.65" width="25.36" height="22.20"/>
<rect class="c8" x="652.23" y="1409.65" width="50.72" height="22.20"/>
<rect class="c12" x="702.95" y="1409.65" width="25.36" height="22.20"/>
<rect class="c5" x="728.31" y="1409.65" width="25.36" height="22.20"/>
<rect class="c10" x="753.66" y="1409.65" width="25.36" height="22.20"/>
<rect class="c6" x="779.02" y="1409.65" width="25.36" height="22.20"/>
<rect class="c8" x="804.38" y="1409.65" width="25.36" height="22.20"/>
<rect class="c4" x="829.74" y="1409.65" width="25.36" height="22.20"/>
<rect class="c7" x="424.00" y="1431.83" width="50.72" height="22.20"/>
<rect class="c6" x="474.72" y="1431.83" width="25.36" height="22.20"/>
<rect class="c7" x="500.08" y="1431.83" width="25.36" height="22.20"/>
<rect class="c8" x="525.44" y="1431.83" width="25.36" height="22.20"/>
<rect class="c7" x="550.79" y="1431.83" width="50.72" height="22.20"/>
<rect class="c5" x="601.51" y="1431.83" width="25.36" height="22.20"/>
<rect class="c11" x="626.87" y="1431.83" width="25.36" height="22.20"/>
<rect class="c6" x="652.23" y="1431.83" width="50.72" height="22.20"/>
<rect class="c5" x="702.95" y="1431.83" width="25.36" height="22.20"/>
<rect class="c6" x="728.31" y="1431.83" width="50.72" height="22.20"/>
<rect class="c8" x="779.02" y="1431.83" width="25.36" height="22.20"/>
<rect class="c5" x="804.38" y="1431.83" width="50.72" height="22.20"/>
<rect class="c8" x="424.00" y="1454.01" width="76.08" height="22.20"/>
<rect class="c7" x="500.08" y="1454.01" width="76.08" height="22.20"/>
<rect class="c8" x="576.15" y="1454.01" width="25.36" height="22.20"/>
<rect class="c4" x="601.51" y="1454.01" width="25.36" height="22.20"/>
<rect class="c8" x="626.87" y="1454.01" width="25.36" height="22.20"/>
<rect class="c6" x="652.23" y="1454.01" width="25.36" height="22.20"/>
<rect class="c7" x="677.59" y="1454.01" width="25.36" height="22.20"/>
<rect class="c6" x="702.95" y="1454.01" width="50.72" height="22.20"/>
<rect class="c8" x="753.66" y="1454.01" width="50.72" height="22.20"/>
<rect class="c7" x="804.38" y="1454.01" width="25.36" height="22.20"/>
<rect class="c5" x="829.74" y="1454.01" width="25.36" height="22.20"/>
<rect class="c8" x="424.00" y="1476.18" width="50.72" height="22.20"/>
<rect class="c7" x="474.72" y="1476.18" width="25.36" height="22.20"/>
<rect class="c4" x="500.08" y="1476.18" width="25.36" height="22.20"/>
<rect class="c6" x="525.44" y="1476.18" width="25.36" height="22.20"/>
<rect class="c7" x="550.79" y="1476.18" width="25.36" height="22.20"/>
<rect class="c8" x="576.15" y="1476.18" width="25.36" height="22.20"/>
<rect class="c4" x="601.51" y="1476.18" width="25.36" height="22.20"/>
<rect class="c7" x="626.87" y="1476.18" width="25.36" height="22.20"/>
<rect class="c4" x="652.23" y="1476.18" width="25.36" height="22.20"/>
<rect class="c6" x="677.59" y="1476.18" width="50.72" height="22.20"/>
<rect class="c7" x="728.31" y="1476.18" width="25.36" height="22.20"/>
<rect class="c8" x="753.66" y="1476.18" width="50.72" height="22.20"/>
<rect class="c6" x="804.38" y="1476.18" width="25.36" height="22.20"/>
<rect class="c2" x="829.74" y="1476.18" width="25.36" height="22.20"/>
<rect class="c5" x="424.00" y="1498.36" width="25.36" height="22.20"/>
<rect class="c6" x="449.36" y="1498.36" width="25.36" height="22.20"/>
<rect class="c7" x="474.72" y="1498.36" width="126.79" height="22.20"/>
<rect class="c2" x="601.51" y="1498.36" width="25.36" height="22.20"/>
<rect class="c5" x="626.87" y="1498.36" width="25.36" height="22.20"/>
<rect class="c4" x="652.23" y="1498.36" width="25.36" height="22.20"/>
<rect class="c5" x="677.59" y="1498.36" width="25.36" height="22.20"/>
<rect class="c7" x="702.95" y="1498.36" width="25.36" height="22.20"/>
<rect class="c5" x="728.31" y="1498.36" width="50.72" height="22.20"/>
<rect class="c8" x="779.02" y="1498.36" width="25.36" height="22.20"/>
<rect class="c5" x="804.38" y="1498.36" width="50.72" height="22.20"/>
<rect class="c0" x="424.00" y="1520.54" width="25.36" height="22.20"/>
<rect class="c7" x="449.36" y="1520.54" width="25.36" height="22.20"/>
<rect class="c8" x="474.72" y="1520.54" width="25.36" height="22.20"/>
<rect class="c7" x="500.08" y="1520.54" width="25.36" height="22.20"/>
<rect class="c5" x="525.44" y="1520.54" width="25.36" height="22.20"/>
<rect class="c0" x="550.79" y="1520.54" width="25.36" height="22.20"/>
<rect class="c5" x="576.15" y="1520.54" width="25.36" height="22.20"/>
<rect class="c7" x="601.51" y="1520.54" width="50.72" height="22.20"/>
<rect class="c4" x="652.23" y="1520.54" width="50.72" height="22.20"/>
<rect class="c7" x="702.95" y="1520.54" width="25.36" height="22.20"/>
<rect class="c5" x="728.31" y="1520.54" width="25.36" height="22.20"/>
<rect class="c8" x="753.66" y="1520.54" width="25.36" height="22.20"/>
<rect class="c5" x="779.02" y="1520.54" width="25.36" height="22.20"/>
<rect class="c4" x="804.38" y="1520.54" width="50.72" height="22.20"/>
<rect class="c1" x="424.00" y="1542.72" width="101.44" height="22.20"/>
<rect class="c12" x="525.44" y="1542.72" width="25.36" height="22.20"/>
<rect class="c8" x="550.79" y="1542.72" width="25.36" height="22.20"/>
<rect class="c9" x="576.15" y="1542.72" width="25.36" height="22.20"/>
<rect class="c6" x="601.51" y="1542.72" width="25.36" height="22.20"/>
<rect class="c1" x="626.87" y="1542.72" width="25.36" height="22.20"/>
<rect class="c8" x="652.23" y="1542.72" width="25.36" height="22.20"/>
<rect class="c11" x="677.59" y="1542.72" width="25.36" height="22.20"/>
<rect class="c8" x="702.95" y="1542.72" width="50.72" height="22.20"/>
<rect class="c11" x="753.66" y="1542.72" width="25.36" height="22.20"/>
<rect class="c1" x="779.02" y="1542.72" width="50.72" height="22.20"/>
<rect class="c0" x="829.74" y="1542.72" width="25.36" height="22.20"/>
<rect class="c1" x="424.00" y="1564.89" width="101.44" height="22.20"/>
<rect class="c12" x="525.44" y="1564.89" width="25.36" height="22.20"/>
<rect class="c8" x="550.79" y="1564.89" width="25.36" height="22.20"/>
<rect class="c9" x="576.15" y="1564.89" width="25.36" height="22.20"/>
<rect class="c6" x="601.51" y="1564.89" width="25.36" height="22.20"/>
<rect class="c1" x="626.87" y="1564.89" width="25.36" height="22.20"/>
<rect class="c8" x="652.23" y="1564.89" width="25.36" height="22.20"/>
<rect class="c11" x="677.59" y="1564.89" width="25.36" height="22.20"/>
<rect class="c8" x="702.95" y="1564.89" width="50.72" height="22.20"/>
<rect class="c11" x="753.66" y="1564.89" width="25.36" height="22.20"/>
<rect class="c1" x="779.02" y="1564.89" width="50.72" height="22.20"/>
<rect class="c0" x="829.74" y="1564.89" width="25.36" height="22.20"/>
<rect class="c4" x="424.00" y="1587.07" width="50.72" height="22.20"/>
<rect class="c0" x="474.72" y="1587.07" width="25.36" height="22.20"/>
<rect class="c5" x="500.08" y="1587.07" width="25.36" height="22.20"/>
<rect class="c0" x="525.44" y="1587.07" width="25.36" height="22.20"/>
<rect class="c8" x="550.79" y="1587.07" width="25.36" height="22.20"/>
<rect class="c14" x="576.15" y="1587.07" width="25.36" height="22.20"/>
<rect class="c0" x="601.51" y="1587.07" width="25.36" height="22.20"/>
<rect class="c5" x="626.87" y="1587.07" width="25.36" height="22.20"/>
<rect class="c6" x="652.23" y="1587.07" width="25.36" height="22.20"/>
<rect class="c12" x="677.59" y="1587.07" width="25.36" height="22.20"/>
<rect class="c6" x="702.95" y="1587.07" width="25.36" height="22.20"/>
<rect class="c8" x="728.31" y="1587.07" width="25.36" height="22.20"/>
<rect class="c7" x="753.66" y="1587.07" width="25.36" height="22.20"/>
<rect class="c9" x="779.02" y="1587.07" width="25.36" height="22.20"/>
<rect class="c6" x="804.38" y="1587.07" width="50.72" height="22.20"/>
<rect class="c1" x="424.00" y="1609.25" width="126.79" height="22.20"/>
<rect class="c9" x="550.79" y="1609.25" width="25.36" height="22.20"/>
<rect class="c1" x="576.15" y="1609.25" width="101.44" height="22.20"/>
<rect class="c14" x="677.59" y="1609.25" width="25.36" height="22.20"/>
<rect class="c1" x="702.95" y="1609.25" width="25.36" height="22.20"/>
<rect class="c6" x="728.31" y="1609.25" width="25.36" height="22.20"/>
<rect class="c1" x="753.66" y="1609.25" width="25.36" height="22.20"/>
<rect class="c6" x="779.02" y="1609.25" width="76.08" height="22.20"/>
<rect class="c7" x="424.00" y="1631.42" width="25.36" height="22.20"/>
<rect class="c8" x="449.36" y="1631.42" width="50.72" height="22.20"/>
<rect class="c7" x="500.08" y="1631.42" width="25.36" height="22.20"/>
<rect class="c9" x="525.44" y="1631.42" width="25.36" height="22.20"/>
<rect class="c5" x="550.79" y="1631.42" width="25.36" height="22.20"/>
<rect class="c1" x="576.15" y="1631.42" width="25.36" height="22.20"/>
<rect class="c0" x="601.51" y="1631.42" width="25.36" height="22.20"/>
<rect class="c7" x="626.87" y="1631.42" width="50.72" height="22.20"/>
<rect class="c6" x="677.59" y="1631.42" width="50.72" height="22.20"/>
<rect class="c9" x="728.31" y="1631.42" width="25.36" height="22.20"/>
<rect class="c6" x="753.66" y="1631.42" width="25.36" height="22.20"/>
<rect class="c8" x="779.02" y="1631.42" width="25.36" height="22.20"/>
<rect class="c6" x="804.38" y="1631.42" width="50.72" height="22.20"/>
<rect class="c1" x="424.00" y="1653.60" width="25.36" height="22.20"/>
<rect class="c0" x="449.36" y="1653.60" width="25.36" height="22.20"/>
<rect class="c2" x="474.72" y="1653.60" width="25.36" height="22.20"/>
<rect class="c5" x="500.08" y="1653.60" width="25.36" height="22.20"/>
<rect class="c11" x="525.44" y="1653.60" width="25.36" height="22.20"/>
<rect class="c6" x="550.79" y="1653.60" width="25.36" height="22.20"/>
<rect class="c4" x="576.15" y="1653.60" width="25.36" height="22.20"/>
<rect class="c6" x="601.51" y="1653.60" width="25.36" height="22.20"/>
<rect class="c7" x="626.87" y="1653.60" width="50.72" height="22.20"/>
<rect class="c6" x="677.59" y="1653.60" width="25.36" height="22.20"/>
<rect class="c8" x="702.95" y="1653.60" width="25.36" height="22.20"/>
<rect class="c12" x="728.31" y="1653.60" width="25.36" height="22.20"/>
<rect class="c7" x="753.66" y="1653.60" width="50.72" height="22.20"/>
<rect class="c6" x="804.38" y="1653.60" width="50.72" height="22.20"/>
<rect class="c0" x="424.00" y="1675.78" width="50.72" height="22.20"/>
<rect class="c2" x="474.72" y="1675.78" width="25.36" height="22.20"/>
<rect class="c14" x="500.08" y="1675.78" width="25.36" height="22.20"/>
<rect class="c11" x="525.44" y="1675.78" width="25.36" height="22.20"/>
<rect class="c7" x="550.79" y="1675.78" width="25.36" height="22.20"/>
<rect class="c2" x="576.15" y="1675.78" width="25.36" height="22.20"/>
<rect class="c0" x="601.51" y="1675.78" width="25.36" height="22.20"/>
<rect class="c5" x="626.87" y="1675.78" width="25.36" height="22.20"/>
<rect class="c8" x="652.23" y="1675.78" width="25.36" height="22.20"/>
<rect class="c7" x="677.59" y="1675.78" width="25.36" height="22.20"/>
<rect class="c6" x="702.95" y="1675.78" width="25.36" height="22.20"/>
<rect class="c8" x="728.31" y="1675.78" width="25.36" height="22.20"/>
<rect class="c7" x="753.66" y="1675.78" width="25.36" height="22.20"/>
<rect class="c8" x="779.02" y="1675.78" width="25.36" height="22.20"/>
<rect class="c6" x="804.38" y="1675.78" width="25.36" height="22.20"/>
<rect class="c7" x="829.74" y="1675.78" width="25.36" height="22.20"/>
<rect class="c4" x="424.00" y="1697.95" width="50.72" height="22.20"/>
<rect class="c5" x="474.72" y="1697.95" width="25.36" height="22.20"/>
<rect class="c10" x="500.08" y="1697.95" width="25.36" height="22.20"/>
<rect class="c14" x="525.44" y="1697.95" width="25.36" height="22.20"/>
<rect class="c5" x="550.79" y="1697.95" width="25.36" height="22.20"/>
<rect class="c0" x="576.15" y="1697.95" width="50.72" height="22.20"/>
<rect class="c6" x="626.87" y="1697.95" width="25.36" height="22.20"/>
<rect class="c7" x="652.23" y="1697.95" width="25.36" height="22.20"/>
<rect class="c4" x="677.59" y="1697.95" width="25.36" height="22.20"/>
<rect class="c2" x="702.95" y="1697.95" width="25.36" height="22.20"/>
<rect class="c7" x="728.31" y="1697.95" width="25.36" height="22.20"/>
<rect class="c0" x="753.66" y="1697.95" width="50.72" height="22.20"/>
<rect class="c2" x="804.38" y="1697.95" width="25.36" height="22.20"/>
<rect class="c4" x="829.74" y="1697.95" width="25.36" height="22.20"/>
<rect class="c0" x="424.00" y="1720.13" width="76.08" height="22.20"/>
<rect class="c8" x="500.08" y="1720.13" width="25.36" height="22.20"/>
<rect class="c12" x="525.44" y="1720.13" width="25.36" height="22.20"/>
<rect class="c0" x="550.79" y="1720.13" width="25.36" height="22.20"/>
<rect class="c8" x="576.15" y="1720.13" width="25.36" height="22.20"/>
<rect class="c1" x="601.51" y="1720.13" width="25.36" height="22.20"/>
<rect class="c6" x="626.87" y="1720.13" width="25.36" height="22.20"/>
<rect class="c2" x="652.23" y="1720.13" width="25.36" height="22.20"/>
<rect class="c0" x="677.59" y="1720.13" width="25.36" height="22.20"/>
<rect class="c4" x="702.95" y="1720.13" width="25.36" height="22.20"/>
<rect class="c1" x="728.31" y="1720.13" width="50.72" height="22.20"/>
<rect class="c14" x="779.02" y="1720.13" width="25.36" height="22.20"/>
<rect class="c0" x="804.38" y="1720.13" width="25.36" height="22.20"/>
<rect class="c2" x="829.74" y="1720.13" width="25.36" height="22.20"/>
<rect class="c0" x="424.00" y="1742.31" width="50.72" height="22.20"/>
<rect class="c1" x="474.72" y="1742.31" width="25.36" height="22.20"/>
<rect class="c4" x="500.08" y="1742.31" width="101.44" height="22.20"/>
<rect class="c1" x="601.51" y="1742.31" width="25.36" height="22.20"/>
<rect class="c5" x="626.87" y="1742.31" width="25.36" height="22.20"/>
<rect class="c2" x="652.23" y="1742.31" width="25.36" height="22.20"/>
<rect class="c5" x="677.59" y="1742.31" width="50.72" height="22.20"/>
<rect class="c9" x="728.31" y="1742.31" width="25.36" height="22.20"/>
<rect class="c5" x="753.66" y="1742.31" width="25.36" height="22.20"/>
<rect class="c6" x="779.02" y="1742.31" width="50.72" height="22.20"/>
<rect class="c14" x="829.74" y="1742.31" width="25.36" height="22.20"/>
<rect class="c0" x="424.00" y="1764.48" width="50.72" height="22.20"/>
<rect class="c8" x="474.72" y="1764.48" width="25.36" height="22.20"/>
<rect class="c0" x="500.08" y="1764.48" width="25.36" height="22.20"/>
<rect class="c6" x="525.44" y="1764.48" width="25.36" height="22.20"/>
<rect class="c7" x="550.79" y="1764.48" width="25.36" height="22.20"/>
<rect class="c1" x="576.15" y="1764.48" width="25.36" height="22.20"/>
<rect class="c6" x="601.51" y="1764.48" width="25.36" height="22.20"/>
<rect class="c0" x="626.87" y="1764.48" width="25.36" height="22.20"/>
<rect class="c5" x="652.23" y="1764.48" width="25.36" height="22.20"/>
<rect class="c0" x="677.59" y="1764.48" width="76.08" height="22.20"/>
<rect class="c7" x="753.66" y="1764.48" width="25.36" height="22.20"/>
<rect class="c4" x="779.02" y="1764.48" width="25.36" height="22.20"/>
<rect class="c8" x="804.38" y="1764.48" width="50.72" height="22.20"/>
<rect class="c0" x="424.00" y="1786.66" width="25.36" height="22.20"/>
<rect class="c1" x="449.36" y="1786.66" width="50.72" height="22.20"/>
<rect class="c0" x="500.08" y="1786.66" width="25.36" height="22.20"/>
<rect class="c2" x="525.44" y="1786.66" width="25.36" height="22.20"/>
<rect class="c7" x="550.79" y="1786.66" width="25.36" height="22.20"/>
<rect class="c0" x="576.15" y="1786.66" width="25.36" height="22.20"/>
<rect class="c1" x="601.51" y="1786.66" width="50.72" height="22.20"/>
<rect class="c4" x="652.23" y="1786.66" width="25.36" height="22.20"/>
<rect class="c7" x="677.59" y="1786.66" width="25.36" height="22.20"/>
<rect class="c2" x="702.95" y="1786.66" width="25.36" height="22.20"/>
<rect class="c1" x="728.31" y="1786.66" width="25.36" height="22.20"/>
<rect class="c6" x="753.66" y="1786.66" width="50.72" height="22.20"/>
<rect class="c13" x="804.38" y="1786.66" width="25.36" height="22.20"/>
<rect class="c8" x="829.74" y="1786.66" width="25.36" height="22.20"/>
<rect class="c0" x="424.00" y="1808.84" width="76.08" height="22.20"/>
<rect class="c2" x="500.08" y="1808.84" width="25.36" height="22.20"/>
<rect class="c4" x="525.44" y="1808.84" width="25.36" height="22.20"/>
<rect class="c7" x="550.79" y="1808.84" width="25.36" height="22.20"/>
<rect class="c0" x="576.15" y="1808.84" width="50.72" height="22.20"/>
<rect class="c1" x="626.87" y="1808.84" width="25.36" height="22.20"/>
<rect class="c6" x="652.23" y="1808.84" width="25.36" height="22.20"/>
<rect class="c7" x="677.59" y="1808.84" width="25.36" height="22.20"/>
<rect class="c5" x="702.95" y="1808.84" width="25.36" height="22.20"/>
<rect class="c0" x="728.31" y="1808.84" width="25.36" height="22.20"/>
<rect class="c6" x="753.66" y="1808.84" width="25.36" height="22.20"/>
<rect class="c7" x="779.02" y="1808.84" width="25.36" height="22.20"/>
<rect class="c8" x="804.38" y="1808.84" width="25.36" height="22.20"/>
<rect class="c7" x="829.74" y="1808.84" width="25.36" height="22.20"/>
<rect class="c14" x="424.00" y="1831.02" width="25.36" height="22.20"/>
<rect class="c2" x="449.36" y="1831.02" width="50.72" height="22.20"/>
<rect class="c1" x="500.08" y="1831.02" width="76.08" height="22.20"/>
<rect class="c12" x="576.15" y="1831.02" width="25.36" height="22.20"/>
<rect class="c2" x="601.51" y="1831.02" width="25.36" height="22.20"/>
<rect class="c1" x="626.87" y="1831.02" width="25.36" height="22.20"/>
<rect class="c0" x="652.23" y="1831.02" width="25.36" height="22.20"/>
<rect class="c1" x="677.59" y="1831.02" width="50.72" height="22.20"/>
<rect class="c5" x="728.31" y="1831.02" width="25.36" height="22.20"/>
<rect class="c7" x="753.66" y="1831.02" width="25.36" height="22.20"/>
<rect class="c1" x="779.02" y="1831.02" width="50.72" height="22.20"/>
<rect class="c7" x="829.74" y="1831.02" width="25.36" height="22.20"/>
<rect class="c0" x="424.00" y="1853.19" width="101.44" height="22.20"/>
<rect class="c2" x="525.44" y="1853.19" width="25.36" height="22.20"/>
<rect class="c0" x="550.79" y="1853.19" width="76.08" height="22.20"/>
<rect class="c1" x="626.87" y="1853.19" width="50.72" height="22.20"/>
<rect class="c2" x="677.59" y="1853.19" width="25.36" height="22.20"/>
<rect class="c1" x="702.95" y="1853.19" width="25.36" height="22.20"/>
<rect class="c7" x="728.31" y="1853.19" width="25.36" height="22.20"/>
<rect class="c0" x="753.66" y="1853.19" width="25.36" height="22.20"/>
<rect class="c2" x="779.02" y="1853.19" width="50.72" height="22.20"/>
<rect class="c1" x="829.74" y="1853.19" width="25.36" height="22.20"/>
<rect class="c0" x="424.00" y="1875.37" width="431.10" height="22.20"/>
<rect class="c0" x="424.00" y="1897.55" width="431.10" height="22.20"/>
<rect class="c0" x="424.00" y="1919.72" width="380.38" height="22.20"/>
<rect class="c2" x="804.38" y="1919.72" width="50.72" height="22.20"/>
<rect class="c0" x="424.00" y="1941.90" width="431.10" height="22.20"/>
<rect class="c3" x="424.00" y="1964.08" width="228.23" height="22.20"/>
<rect class="c0" x="652.23" y="1964.08" width="25.36" height="22.20"/>
<rect class="c3" x="677.59" y="1964.08" width="152.15" height="22.20"/>
<rect class="c2" x="829.74" y="1964.08" width="25.36" height="22.20"/>
<rect class="c1" x="424.00" y="1986.25" width="50.72" height="22.20"/>
<rect class="c6" x="474.72" y="1986.25" width="25.36" height="22.20"/>
<rect class="c7" x="500.08" y="1986.25" width="50.72" height="22.20"/>
<rect class="c1" x="550.79" y="1986.25" width="50.72" height="22.20"/>
<rect class="c2" x="601.51" y="1986.25" width="25.36" height="22.20"/>
<rect class="c5" x="626.87" y="1986.25" width="50.72" height="22.20"/>
<rect class="c6" x="677.59" y="1986.25" width="50.72" height="22.20"/>
<rect class="c1" x="728.31" y="1986.25" width="101.44" height="22.20"/>
<rect class="c5" x="829.74" y="1986.25" width="25.36" height="22.20"/>
<rect class="c0" x="424.00" y="2008.43" width="76.08" height="22.20"/>
<rect class="c2" x="500.08" y="2008.43" width="25.36" height="22.20"/>
<rect class="c0" x="525.44" y="2008.43" width="152.15" height="22.20"/>
<rect class="c2" x="677.59" y="2008.43" width="25.36" height="22.20"/>
<rect class="c0" x="702.95" y="2008.43" width="25.36" height="22.20"/>
<rect class="c6" x="728.31" y="2008.43" width="25.36" height="22.20"/>
<rect class="c0" x="753.66" y="2008.43" width="76.08" height="22.20"/>
<rect class="c1" x="829.74" y="2008.43" width="25.36" height="22.20"/>
<rect class="c2" x="424.00" y="2030.61" width="228.23" height="22.20"/>
<rect class="c0" x="652.23" y="2030.61" width="25.36" height="22.20"/>
<rect class="c2" x="677.59" y="2030.61" width="152.15" height="22.20"/>
<rect class="c1" x="829.74" y="2030.61" width="25.36" height="22.20"/>
<rect class="c2" x="424.00" y="2052.78" width="228.23" height="22.20"/>
<rect class="c0" x="652.23" y="2052.78" width="25.36" height="22.20"/>
<rect class="c2" x="677.59" y="2052.78" width="152.15" height="22.20"/>
<rect class="c1" x="829.74" y="2052.78" width="25.36" height="22.20"/>
<rect class="c1" x="424.00" y="2074.96" width="431.10" height="22.20"/>
<rect class="c5" x="424.00" y="2097.14" width="50.72" height="22.20"/>
<rect class="c1" x="474.72" y="2097.14" width="25.36" height="22.20"/>
<rect class="c11" x="500.08" y="2097.14" width="25.36" height="22.20"/>
<rect class="c2" x="525.44" y="2097.14" width="126.79" height="22.20"/>
<rect class="c0" x="652.23" y="2097.14" width="25.36" height="22.20"/>
<rect class="c2" x="677.59" y="2097.14" width="152.15" height="22.20"/>
<rect class="c1" x="829.74" y="2097.14" width="25.36" height="22.20"/>
<rect class="c0" x="424.00" y="2119.32" width="431.10" height="22.20"/>
<rect class="c0" x="424.00" y="2141.49" width="431.10" height="22.20"/>
<rect class="c2" x="424.00" y="2163.67" width="228.23" height="22.20"/>
<rect class="c0" x="652.23" y="2163.67" width="25.36" height="22.20"/>
<rect class="c2" x="677.59" y="2163.67" width="152.15" height="22.20"/>
<rect class="c1" x="829.74" y="2163.67" width="25.36" height="22.20"/>
<rect class="c0" x="424.00" y="2185.85" width="152.15" height="22.20"/>
<rect class="c5" x="576.15" y="2185.85" width="25.36" height="22.20"/>
<rect class="c0" x="601.51" y="2185.85" width="101.44" height="22.20"/>
<rect class="c1" x="702.95" y="2185.85" width="25.36" height="22.20"/>
<rect class="c0" x="728.31" y="2185.85" width="101.44" height="22.20"/>
<rect class="c2" x="829.74" y="2185.85" width="25.36" height="22.20"/>
<rect class="c0" x="424.00" y="2208.02" width="152.15" height="22.20"/>
<rect class="c5" x="576.15" y="2208.02" width="25.36" height="22.20"/>
<rect class="c0" x="601.51" y="2208.02" width="50.72" height="22.20"/>
<rect class="c1" x="652.23" y="2208.02" width="25.36" height="22.20"/>
<rect class="c2" x="677.59" y="2208.02" width="25.36" height="22.20"/>
<rect class="c1" x="702.95" y="2208.02" width="25.36" height="22.20"/>
<rect class="c4" x="728.31" y="2208.02" width="25.36" height="22.20"/>
<rect class="c0" x="753.66" y="2208.02" width="25.36" height="22.20"/>
<rect class="c2" x="779.02" y="2208.02" width="50.72" height="22.20"/>
<rect class="c1" x="829.74" y="2208.02" width="25.36" height="22.20"/>
<rect class="c0" x="424.00" y="2230.20" width="431.10" height="22.20"/>
<rect class="c0" x="424.00" y="2252.38" width="253.59" height="22.20"/>
<rect class="c1" x="677.59" y="2252.38" width="25.36" height="22.20"/>
<rect class="c0" x="702.95" y="2252.38" width="152.15" height="22.20"/>
<rect class="c3" x="424.00" y="2274.55" width="228.23" height="22.20"/>
<rect class="c0" x="652.23" y="2274.55" width="25.36" height="22.20"/>
<rect class="c2" x="677.59" y="2274.55" width="177.51" height="22.20"/>
<rect class="c5" x="424.00" y="2296.73" width="50.72" height="22.20"/>
<rect class="c4" x="474.72" y="2296.73" width="50.72" height="22.20"/>
<rect class="c5" x="525.44" y="2296.73" width="50.72" height="22.20"/>
<rect class="c4" x="576.15" y="2296.73" width="25.36" height="22.20"/>
<rect class="c1" x="601.51" y="2296.73" width="25.36" height="22.20"/>
<rect class="c6" x="626.87" y="2296.73" width="25.36" height="22.20"/>
<rect class="c4" x="652.23" y="2296.73" width="50.72" height="22.20"/>
<rect class="c2" x="702.95" y="2296.73" width="25.36" height="22.20"/>
<rect class="c4" x="728.31" y="2296.73" width="50.72" height="22.20"/>
<rect class="c5" x="779.02" y="2296.73" width="50.72" height="22.20"/>
<rect class="c4" x="829.74" y="2296.73" width="25.36" height="22.20"/>
<rect class="c2" x="424.00" y="2318.91" width="228.23" height="22.20"/>
<rect class="c0" x="652.23" y="2318.91" width="25.36" height="22.20"/>
<rect class="c2" x="677.59" y="2318.91" width="152.15" height="22.20"/>
<rect class="c7" x="829.74" y="2318.91" width="25.36" height="22.20"/>
<rect class="c0" x="424.00" y="2341.08" width="278.95" height="22.20"/>
<rect class="c2" x="702.95" y="2341.08" width="25.36" height="22.20"/>
<rect class="c0" x="728.31" y="2341.08" width="126.79" height="22.20"/>
<rect class="c2" x="424.00" y="2363.26" width="228.23" height="22.20"/>
<rect class="c0" x="652.23" y="2363.26" width="25.36" height="22.20"/>
<rect class="c2" x="677.59" y="2363.26" width="152.15" height="22.20"/>
<rect class="c1" x="829.74" y="2363.26" width="25.36" height="22.20"/>
<rect class="c0" x="424.00" y="2385.44" width="50.72" height="22.20"/>
<rect class="c2" x="474.72" y="2385.44" width="25.36" height="22.20"/>
<rect class="c0" x="500.08" y="2385.44" width="50.72" height="22.20"/>
<rect class="c4" x="550.79" y="2385.44" width="25.36" height="22.20"/>
<rect class="c0" x="576.15" y="2385.44" width="50.72" height="22.20"/>
<rect class="c4" x="626.87" y="2385.44" width="25.36" height="22.20"/>
<rect class="c0" x="652.23" y="2385.44" width="76.08" height="22.20"/>
<rect class="c2" x="728.31" y="2385.44" width="25.36" height="22.20"/>
<rect class="c0" x="753.66" y="2385.44" width="76.08" height="22.20"/>
<rect class="c1" x="829.74" y="2385.44" width="25.36" height="22.20"/>
<rect class="c0" x="424.00" y="2407.62" width="50.72" height="22.20"/>
<rect class="c2" x="474.72" y="2407.62" width="25.36" height="22.20"/>
<rect class="c0" x="500.08" y="2407.62" width="50.72" height="22.20"/>
<rect class="c4" x="550.79" y="2407.62" width="25.36" height="22.20"/>
<rect class="c0" x="576.15" y="2407.62" width="50.72" height="22.20"/>
<rect class="c4" x="626.87" y="2407.62" width="25.36" height="22.20"/>
<rect class="c0" x="652.23" y="2407.62" width="76.08" height="22.20"/>
<rect class="c2" x="728.31" y="2407.62" width="25.36" height="22.20"/>
<rect class="c0" x="753.66" y="2407.62" width="76.08" height="22.20"/>
<rect class="c1" x="829.74" y="2407.62" width="25.36" height="22.20"/>
<rect class="c0" x="424.00" y="2429.79" width="431.10" height="22.20"/>
<rect class="c1" x="424.00" y="2451.97" width="25.36" height="22.20"/>
<rect class="c5" x="449.36" y="2451.97" width="25.36" height="22.20"/>
<rect class="c4" x="474.72" y="2451.97" width="25.36" height="22.20"/>
<rect class="c0" x="500.08" y="2451.97" width="25.36" height="22.20"/>
<rect class="c6" x="525.44" y="2451.97" width="25.36" height="22.20"/>
<rect class="c0" x="550.79" y="2451.97" width="25.36" height="22.20"/>
<rect class="c1" x="576.15" y="2451.97" width="76.08" height="22.20"/>
<rect class="c7" x="652.23" y="2451.97" width="25.36" height="22.20"/>
<rect class="c0" x="677.59" y="2451.97" width="25.36" height="22.20"/>
<rect class="c4" x="702.95" y="2451.97" width="25.36" height="22.20"/>
<rect class="c1" x="728.31" y="2451.97" width="101.44" height="22.20"/>
<rect class="c6" x="829.74" y="2451.97" width="25.36" height="22.20"/>
<rect class="c1" x="424.00" y="2474.15" width="228.23" height="22.20"/>
<rect class="c8" x="652.23" y="2474.15" width="25.36" height="22.20"/>
<rect class="c1" x="677.59" y="2474.15" width="177.51" height="22.20"/>
<rect class="c0" x="424.00" y="2496.32" width="152.15" height="22.20"/>
<rect class="c7" x="576.15" y="2496.32" width="25.36" height="22.20"/>
<rect class="c0" x="601.51" y="2496.32" width="253.59" height="22.20"/>
<rect class="c5" x="860.00" y="1365.30" width="25.37" height="22.20"/>
<rect class="c7" x="885.37" y="1365.30" width="25.37" height="22.20"/>
<rect class="c2" x="910.75" y="1365.30" width="25.37" height="22.20"/>
<rect class="c7" x="936.12" y="1365.30" width="25.37" height="22.20"/>
<rect class="c5" x="961.49" y="1365.30" width="25.37" height="22.20"/>
<rect class="c9" x="986.87" y="1365.30" width="25.37" height="22.20"/>
<rect class="c6" x="1012.24" y="1365.30" width="25.37" height="22.20"/>
<rect class="c4" x="1037.61" y="1365.30" width="25.37" height="22.20"/>
<rect class="c2" x="1062.99" y="1365.30" width="25.37" height="22.20"/>
<rect class="c4" x="1088.36" y="1365.30" width="25.37" height="22.20"/>
<rect class="c0" x="1113.73" y="1365.30" width="25.37" height="22.20"/>
<rect class="c5" x="1139.11" y="1365.30" width="25.37" height="22.20"/>
<rect class="c2" x="1164.48" y="1365.30" width="50.75" height="22.20"/>
<rect class="c0" x="1215.23" y="1365.30" width="25.37" height="22.20"/>
<rect class="c0" x="860.00" y="1387.48" width="25.37" height="22.20"/>
<rect class="c1" x="885.37" y="1387.48" width="25.37" height="22.20"/>
<rect class="c0" x="910.75" y="1387.48" width="329.85" height="22.20"/>
<rect class="c0" x="860.00" y="1409.65" width="25.37" height="22.20"/>
<rect class="c2" x="885.37" y="1409.65" width="25.37" height="22.20"/>
<rect class="c0" x="910.75" y="1409.65" width="329.85" height="22.20"/>
<rect class="c5" x="860.00" y="1431.83" width="25.37" height="22.20"/>
<rect class="c0" x="885.37" y="1431.83" width="50.75" height="22.20"/>
<rect class="c2" x="936.12" y="1431.83" width="25.37" height="22.20"/>
<rect class="c4" x="961.49" y="1431.83" width="25.37" height="22.20"/>
<rect class="c2" x="986.87" y="1431.83" width="25.37" height="22.20"/>
<rect class="c4" x="1012.24" y="1431.83" width="25.37" height="22.20"/>
<rect class="c5" x="1037.61" y="1431.83" width="25.37" height="22.20"/>
<rect class="c1" x="1062.99" y="1431.83" width="25.37" height="22.20"/>
<rect class="c5" x="1088.36" y="1431.83" width="50.75" height="22.20"/>
<rect class="c6" x="1139.11" y="1431.83" width="25.37" height="22.20"/>
<rect class="c2" x="1164.48" y="1431.83" width="25.37" height="22.20"/>
<rect class="c5" x="1189.85" y="1431.83" width="25.37" height="22.20"/>
<rect class="c12" x="1215.23" y="1431.83" width="25.37" height="22.20"/>
<rect class="c0" x="860.00" y="1454.01" width="25.37" height="22.20"/>
<rect class="c5" x="885.37" y="1454.01" width="25.37" height="22.20"/>
<rect class="c0" x="910.75" y="1454.01" width="25.37" height="22.20"/>
<rect class="c2" x="936.12" y="1454.01" width="25.37" height="22.20"/>
<rect class="c0" x="961.49" y="1454.01" width="25.37" height="22.20"/>
<rect class="c2" x="986.87" y="1454.01" width="25.37" height="22.20"/>
<rect class="c0" x="1012.24" y="1454.01" width="76.12" height="22.20"/>
<rect class="c1" x="1088.36" y="1454.01" width="25.37" height="22.20"/>
<rect class="c2" x="1113.73" y="1454.01" width="25.37" height="22.20"/>
<rect class="c1" x="1139.11" y="1454.01" width="50.75" height="22.20"/>
<rect class="c0" x="1189.85" y="1454.01" width="50.75" height="22.20"/>
<rect class="c0" x="860.00" y="1476.18" width="101.49" height="22.20"/>
<rect class="c2" x="961.49" y="1476.18" width="25.37" height="22.20"/>
<rect class="c0" x="986.87" y="1476.18" width="126.87" height="22.20"/>
<rect class="c4" x="1113.73" y="1476.18" width="25.37" height="22.20"/>
<rect class="c0" x="1139.11" y="1476.18" width="50.75" height="22.20"/>
<rect class="c1" x="1189.85" y="1476.18" width="25.37" height="22.20"/>
<rect class="c0" x="1215.23" y="1476.18" width="25.37" height="22.20"/>
<rect class="c0" x="860.00" y="1498.36" width="380.60" height="22.20"/>
<rect class="c0" x="860.00" y="1520.54" width="76.12" height="22.20"/>
<rect class="c1" x="936.12" y="1520.54" width="25.37" height="22.20"/>
<rect class="c0" x="961.49" y="1520.54" width="279.11" height="22.20"/>
<rect class="c0" x="860.00" y="1542.72" width="25.37" height="22.20"/>
<rect class="c2" x="885.37" y="1542.72" width="126.87" height="22.20"/>
<rect class="c0" x="1012.24" y="1542.72" width="50.75" height="22.20"/>
<rect class="c1" x="1062.99" y="1542.72" width="50.75" height="22.20"/>
<rect class="c2" x="1113.73" y="1542.72" width="50.75" height="22.20"/>
<rect class="c7" x="1164.48" y="1542.72" width="25.37" height="22.20"/>
<rect class="c1" x="1189.85" y="1542.72" width="50.75" height="22.20"/>
<rect class="c0" x="860.00" y="1564.89" width="25.37" height="22.20"/>
<rect class="c2" x="885.37" y="1564.89" width="126.87" height="22.20"/>
<rect class="c0" x="1012.24" y="1564.89" width="50.75" height="22.20"/>
<rect class="c1" x="1062.99" y="1564.89" width="50.75" height="22.20"/>
<rect class="c2" x="1113.73" y="1564.89" width="50.75" height="22.20"/>
<rect class="c7" x="1164.48" y="1564.89" width="25.37" height="22.20"/>
<rect class="c1" x="1189.85" y="1564.89" width="50.75" height="22.20"/>
<rect class="c0" x="860.00" y="1587.07" width="25.37" height="22.20"/>
<rect class="c6" x="885.37" y="1587.07" width="25.37" height="22.20"/>
<rect class="c0" x="910.75" y="1587.07" width="50.75" height="22.20"/>
<rect class="c5" x="961.49" y="1587.07" width="50.75" height="22.20"/>
<rect class="c0" x="1012.24" y="1587.07" width="202.99" height="22.20"/>
<rect class="c4" x="1215.23" y="1587.07" width="25.37" height="22.20"/>
<rect class="c0" x="860.00" y="1609.25" width="25.37" height="22.20"/>
<rect class="c2" x="885.37" y="1609.25" width="126.87" height="22.20"/>
<rect class="c1" x="1012.24" y="1609.25" width="25.37" height="22.20"/>
<rect class="c0" x="1037.61" y="1609.25" width="25.37" height="22.20"/>
<rect class="c1" x="1062.99" y="1609.25" width="50.75" height="22.20"/>
<rect class="c2" x="1113.73" y="1609.25" width="76.12" height="22.20"/>
<rect class="c1" x="1189.85" y="1609.25" width="25.37" height="22.20"/>
<rect class="c0" x="1215.23" y="1609.25" width="25.37" height="22.20"/>
<rect class="c4" x="860.00" y="1631.42" width="25.37" height="22.20"/>
<rect class="c0" x="885.37" y="1631.42" width="25.37" height="22.20"/>
<rect class="c2" x="910.75" y="1631.42" width="25.37" height="22.20"/>
<rect class="c0" x="936.12" y="1631.42" width="76.12" height="22.20"/>
<rect class="c5" x="1012.24" y="1631.42" width="76.12" height="22.20"/>
<rect class="c4" x="1088.36" y="1631.42" width="25.37" height="22.20"/>
<rect class="c0" x="1113.73" y="1631.42" width="76.12" height="22.20"/>
<rect class="c2" x="1189.85" y="1631.42" width="25.37" height="22.20"/>
<rect class="c5" x="1215.23" y="1631.42" width="25.37" height="22.20"/>
<rect class="c7" x="860.00" y="1653.60" width="25.37" height="22.20"/>
<rect class="c0" x="885.37" y="1653.60" width="25.37" height="22.20"/>
<rect class="c1" x="910.75" y="1653.60" width="25.37" height="22.20"/>
<rect class="c0" x="936.12" y="1653.60" width="76.12" height="22.20"/>
<rect class="c1" x="1012.24" y="1653.60" width="25.37" height="22.20"/>
<rect class="c4" x="1037.61" y="1653.60" width="25.37" height="22.20"/>
<rect class="c2" x="1062.99" y="1653.60" width="76.12" height="22.20"/>
<rect class="c0" x="1139.11" y="1653.60" width="25.37" height="22.20"/>
<rect class="c4" x="1164.48" y="1653.60" width="50.75" height="22.20"/>
<rect class="c6" x="1215.23" y="1653.60" width="25.37" height="22.20"/>
<rect class="c4" x="860.00" y="1675.78" width="25.37" height="22.20"/>
<rect class="c0" x="885.37" y="1675.78" width="25.37" height="22.20"/>
<rect class="c4" x="910.75" y="1675.78" width="25.37" height="22.20"/>
<rect class="c0" x="936.12" y="1675.78" width="76.12" height="22.20"/>
<rect class="c6" x="1012.24" y="1675.78" width="25.37" height="22.20"/>
<rect class="c4" x="1037.61" y="1675.78" width="25.37" height="22.20"/>
<rect class="c5" x="1062.99" y="1675.78" width="25.37" height="22.20"/>
<rect class="c4" x="1088.36" y="1675.78" width="25.37" height="22.20"/>
<rect class="c0" x="1113.73" y="1675.78" width="76.12" height="22.20"/>
<rect class="c4" x="1189.85" y="1675.78" width="50.75" height="22.20"/>
<rect class="c0" x="860.00" y="1697.95" width="50.75" height="22.20"/>
<rect class="c2" x="910.75" y="1697.95" width="25.37" height="22.20"/>
<rect class="c0" x="936.12" y="1697.95" width="76.12" height="22.20"/>
<rect class="c2" x="1012.24" y="1697.95" width="25.37" height="22.20"/>
<rect class="c1" x="1037.61" y="1697.95" width="25.37" height="22.20"/>
<rect class="c2" x="1062.99" y="1697.95" width="76.12" height="22.20"/>
<rect class="c0" x="1139.11" y="1697.95" width="50.75" height="22.20"/>
<rect class="c1" x="1189.85" y="1697.95" width="25.37" height="22.20"/>
<rect class="c2" x="1215.23" y="1697.95" width="25.37" height="22.20"/>
<rect class="c1" x="860.00" y="1720.13" width="50.75" height="22.20"/>
<rect class="c0" x="910.75" y="1720.13" width="25.37" height="22.20"/>
<rect class="c1" x="936.12" y="1720.13" width="25.37" height="22.20"/>
<rect class="c7" x="961.49" y="1720.13" width="25.37" height="22.20"/>
<rect class="c1" x="986.87" y="1720.13" width="25.37" height="22.20"/>
<rect class="c2" x="1012.24" y="1720.13" width="25.37" height="22.20"/>
<rect class="c4" x="1037.61" y="1720.13" width="25.37" height="22.20"/>
<rect class="c2" x="1062.99" y="1720.13" width="25.37" height="22.20"/>
<rect class="c0" x="1088.36" y="1720.13" width="25.37" height="22.20"/>
<rect class="c1" x="1113.73" y="1720.13" width="50.75" height="22.20"/>
<rect class="c5" x="1164.48" y="1720.13" width="50.75" height="22.20"/>
<rect class="c4" x="1215.23" y="1720.13" width="25.37" height="22.20"/>
<rect class="c1" x="860.00" y="1742.31" width="25.37" height="22.20"/>
<rect class="c0" x="885.37" y="1742.31" width="25.37" height="22.20"/>
<rect class="c1" x="910.75" y="1742.31" width="25.37" height="22.20"/>
<rect class="c0" x="936.12" y="1742.31" width="25.37" height="22.20"/>
<rect class="c1" x="961.49" y="1742.31" width="25.37" height="22.20"/>
<rect class="c6" x="986.87" y="1742.31" width="25.37" height="22.20"/>
<rect class="c1" x="1012.24" y="1742.31" width="25.37" height="22.20"/>
<rect class="c2" x="1037.61" y="1742.31" width="25.37" height="22.20"/>
<rect class="c0" x="1062.99" y="1742.31" width="25.37" height="22.20"/>
<rect class="c8" x="1088.36" y="1742.31" width="25.37" height="22.20"/>
<rect class="c5" x="1113.73" y="1742.31" width="25.37" height="22.20"/>
<rect class="c6" x="1139.11" y="1742.31" width="25.37" height="22.20"/>
<rect class="c0" x="1164.48" y="1742.31" width="25.37" height="22.20"/>
<rect class="c6" x="1189.85" y="1742.31" width="50.75" height="22.20"/>
<rect class="c0" x="860.00" y="1764.48" width="25.37" height="22.20"/>
<rect class="c1" x="885.37" y="1764.48" width="76.12" height="22.20"/>
<rect class="c7" x="961.49" y="1764.48" width="25.37" height="22.20"/>
<rect class="c1" x="986.87" y="1764.48" width="25.37" height="22.20"/>
<rect class="c6" x="1012.24" y="1764.48" width="25.37" height="22.20"/>
<rect class="c4" x="1037.61" y="1764.48" width="25.37" height="22.20"/>
<rect class="c1" x="1062.99" y="1764.48" width="126.87" height="22.20"/>
<rect class="c0" x="1189.85" y="1764.48" width="50.75" height="22.20"/>
<rect class="c0" x="860.00" y="1786.66" width="25.37" height="22.20"/>
<rect class="c4" x="885.37" y="1786.66" width="25.37" height="22.20"/>
<rect class="c1" x="910.75" y="1786.66" width="25.37" height="22.20"/>
<rect class="c2" x="936.12" y="1786.66" width="25.37" height="22.20"/>
<rect class="c1" x="961.49" y="1786.66" width="25.37" height="22.20"/>
<rect class="c0" x="986.87" y="1786.66" width="126.87" height="22.20"/>
<rect class="c1" x="1113.73" y="1786.66" width="76.12" height="22.20"/>
<rect class="c0" x="1189.85" y="1786.66" width="50.75" height="22.20"/>
<rect class="c0" x="860.00" y="1808.84" width="380.60" height="22.20"/>
<rect class="c2" x="860.00" y="1831.02" width="152.24" height="22.20"/>
<rect class="c0" x="1012.24" y="1831.02" width="50.75" height="22.20"/>
<rect class="c1" x="1062.99" y="1831.02" width="50.75" height="22.20"/>
<rect class="c2" x="1113.73" y="1831.02" width="76.12" height="22.20"/>
<rect class="c1" x="1189.85" y="1831.02" width="50.75" height="22.20"/>
<rect class="c5" x="860.00" y="1853.19" width="25.37" height="22.20"/>
<rect class="c0" x="885.37" y="1853.19" width="25.37" height="22.20"/>
<rect class="c2" x="910.75" y="1853.19" width="25.37" height="22.20"/>
<rect class="c7" x="936.12" y="1853.19" width="25.37" height="22.20"/>
<rect class="c8" x="961.49" y="1853.19" width="25.37" height="22.20"/>
<rect class="c14" x="986.87" y="1853.19" width="25.37" height="22.20"/>
<rect class="c8" x="1012.24" y="1853.19" width="25.37" height="22.20"/>
<rect class="c6" x="1037.61" y="1853.19" width="25.37" height="22.20"/>
<rect class="c12" x="1062.99" y="1853.19" width="25.37" height="22.20"/>
<rect class="c9" x="1088.36" y="1853.19" width="25.37" height="22.20"/>
<rect class="c5" x="1113.73" y="1853.19" width="25.37" height="22.20"/>
<rect class="c13" x="1139.11" y="1853.19" width="25.37" height="22.20"/>
<rect class="c14" x="1164.48" y="1853.19" width="25.37" height="22.20"/>
<rect class="c7" x="1189.85" y="1853.19" width="25.37" height="22.20"/>
<rect class="c6" x="1215.23" y="1853.19" width="25.37" height="22.20"/>
<rect class="c2" x="860.00" y="1875.37" width="25.37" height="22.20"/>
<rect class="c6" x="885.37" y="1875.37" width="25.37" height="22.20"/>
<rect class="c2" x="910.75" y="1875.37" width="25.37" height="22.20"/>
<rect class="c8" x="936.12" y="1875.37" width="25.37" height="22.20"/>
<rect class="c11" x="961.49" y="1875.37" width="25.37" height="22.20"/>
<rect class="c14" x="986.87" y="1875.37" width="25.37" height="22.20"/>
<rect class="c5" x="1012.24" y="1875.37" width="25.37" height="22.20"/>
<rect class="c2" x="1037.61" y="1875.37" width="25.37" height="22.20"/>
<rect class="c6" x="1062.99" y="1875.37" width="25.37" height="22.20"/>
<rect class="c5" x="1088.36" y="1875.37" width="50.75" height="22.20"/>
<rect class="c9" x="1139.11" y="1875.37" width="25.37" height="22.20"/>
<rect class="c8" x="1164.48" y="1875.37" width="25.37" height="22.20"/>
<rect class="c6" x="1189.85" y="1875.37" width="25.37" height="22.20"/>
<rect class="c2" x="1215.23" y="1875.37" width="25.37" height="22.20"/>
<rect class="c2" x="860.00" y="1897.55" width="25.37" height="22.20"/>
<rect class="c0" x="885.37" y="1897.55" width="50.75" height="22.20"/>
<rect class="c7" x="936.12" y="1897.55" width="50.75" height="22.20"/>
<rect class="c14" x="986.87" y="1897.55" width="25.37" height="22.20"/>
<rect class="c5" x="1012.24" y="1897.55" width="25.37" height="22.20"/>
<rect class="c4" x="1037.61" y="1897.55" width="25.37" height="22.20"/>
<rect class="c5" x="1062.99" y="1897.55" width="50.75" height="22.20"/>
<rect class="c2" x="1113.73" y="1897.55" width="25.37" height="22.20"/>
<rect class="c8" x="1139.11" y="1897.55" width="25.37" height="22.20"/>
<rect class="c6" x="1164.48" y="1897.55" width="25.37" height="22.20"/>
<rect class="c5" x="1189.85" y="1897.55" width="25.37" height="22.20"/>
<rect class="c2" x="1215.23" y="1897.55" width="25.37" height="22.20"/>
<rect class="c2" x="860.00" y="1919.72" width="25.37" height="22.20"/>
<rect class="c4" x="885.37" y="1919.72" width="25.37" height="22.20"/>
<rect class="c1" x="910.75" y="1919.72" width="25.37" height="22.20"/>
<rect class="c8" x="936.12" y="1919.72" width="25.37" height="22.20"/>
<rect class="c7" x="961.49" y="1919.72" width="25.37" height="22.20"/>
<rect class="c14" x="986.87" y="1919.72" width="25.37" height="22.20"/>
<rect class="c5" x="1012.24" y="1919.72" width="25.37" height="22.20"/>
<rect class="c2" x="1037.61" y="1919.72" width="25.37" height="22.20"/>
<rect class="c5" x="1062.99" y="1919.72" width="50.75" height="22.20"/>
<rect class="c4" x="1113.73" y="1919.72" width="25.37" height="22.20"/>
<rect class="c7" x="1139.11" y="1919.72" width="50.75" height="22.20"/>
<rect class="c5" x="1189.85" y="1919.72" width="25.37" height="22.20"/>
<rect class="c2" x="1215.23" y="1919.72" width="25.37" height="22.20"/>
<rect class="c2" x="860.00" y="1941.90" width="25.37" height="22.20"/>
<rect class="c0" x="885.37" y="1941.90" width="25.37" height="22.20"/>
<rect class="c1" x="910.75" y="1941.90" width="25.37" height="22.20"/>
<rect class="c7" x="936.12" y="1941.90" width="25.37" height="22.20"/>
<rect class="c6" x="961.49" y="1941.90" width="25.37" height="22.20"/>
<rect class="c14" x="986.87" y="1941.90" width="25.37" height="22.20"/>
<rect class="c5" x="1012.24" y="1941.90" width="25.37" height="22.20"/>
<rect class="c2" x="1037.61" y="1941.90" width="25.37" height="22.20"/>
<rect class="c6" x="1062.99" y="1941.90" width="50.75" height="22.20"/>
<rect class="c2" x="1113.73" y="1941.90" width="25.37" height="22.20"/>
<rect class="c7" x="1139.11" y="1941.90" width="50.75" height="22.20"/>
<rect class="c4" x="1189.85" y="1941.90" width="25.37" height="22.20"/>
<rect class="c2" x="1215.23" y="1941.90" width="25.37" height="22.20"/>
<rect class="c5" x="860.00" y="1964.08" width="50.75" height="22.20"/>
<rect class="c4" x="910.75" y="1964.08" width="50.75" height="22.20"/>
<rect class="c14" x="961.49" y="1964.08" width="25.37" height="22.20"/>
<rect class="c4" x="986.87" y="1964.08" width="25.37" height="22.20"/>
<rect class="c1" x="1012.24" y="1964.08" width="25.37" height="22.20"/>
<rect class="c0" x="1037.61" y="1964.08" width="25.37" height="22.20"/>
<rect class="c9" x="1062.99" y="1964.08" width="25.37" height="22.20"/>
<rect class="c8" x="1088.36" y="1964.08" width="25.37" height="22.20"/>
<rect class="c4" x="1113.73" y="1964.08" width="25.37" height="22.20"/>
<rect class="c7" x="1139.11" y="1964.08" width="25.37" height="22.20"/>
<rect class="c10" x="1164.48" y="1964.08" width="25.37" height="22.20"/>
<rect class="c12" x="1189.85" y="1964.08" width="25.37" height="22.20"/>
<rect class="c5" x="1215.23" y="1964.08" width="25.37" height="22.20"/>
<rect class="c5" x="860.00" y="1986.25" width="25.37" height="22.20"/>
<rect class="c2" x="885.37" y="1986.25" width="25.37" height="22.20"/>
<rect class="c1" x="910.75" y="1986.25" width="25.37" height="22.20"/>
<rect class="c9" x="936.12" y="1986.25" width="25.37" height="22.20"/>
<rect class="c14" x="961.49" y="1986.25" width="25.37" height="22.20"/>
<rect class="c2" x="986.87" y="1986.25" width="50.75" height="22.20"/>
<rect class="c7" x="1037.61" y="1986.25" width="25.37" height="22.20"/>
<rect class="c6" x="1062.99" y="1986.25" width="25.37" height="22.20"/>
<rect class="c7" x="1088.36" y="1986.25" width="25.37" height="22.20"/>
<rect class="c2" x="1113.73" y="1986.25" width="25.37" height="22.20"/>
<rect class="c8" x="1139.11" y="1986.25" width="50.75" height="22.20"/>
<rect class="c0" x="1189.85" y="1986.25" width="25.37" height="22.20"/>
<rect class="c2" x="1215.23" y="1986.25" width="25.37" height="22.20"/>
<rect class="c4" x="860.00" y="2008.43" width="25.37" height="22.20"/>
<rect class="c0" x="885.37" y="2008.43" width="25.37" height="22.20"/>
<rect class="c4" x="910.75" y="2008.43" width="25.37" height="22.20"/>
<rect class="c8" x="936.12" y="2008.43" width="50.75" height="22.20"/>
<rect class="c6" x="986.87" y="2008.43" width="25.37" height="22.20"/>
<rect class="c5" x="1012.24" y="2008.43" width="25.37" height="22.20"/>
<rect class="c6" x="1037.61" y="2008.43" width="25.37" height="22.20"/>
<rect class="c7" x="1062.99" y="2008.43" width="50.75" height="22.20"/>
<rect class="c8" x="1113.73" y="2008.43" width="50.75" height="22.20"/>
<rect class="c7" x="1164.48" y="2008.43" width="25.37" height="22.20"/>
<rect class="c8" x="1189.85" y="2008.43" width="25.37" height="22.20"/>
<rect class="c7" x="1215.23" y="2008.43" width="25.37" height="22.20"/>
<rect class="c0" x="860.00" y="2030.61" width="25.37" height="22.20"/>
<rect class="c4" x="885.37" y="2030.61" width="25.37" height="22.20"/>
<rect class="c2" x="910.75" y="2030.61" width="50.75" height="22.20"/>
<rect class="c10" x="961.49" y="2030.61" width="25.37" height="22.20"/>
<rect class="c4" x="986.87" y="2030.61" width="25.37" height="22.20"/>
<rect class="c7" x="1012.24" y="2030.61" width="25.37" height="22.20"/>
<rect class="c0" x="1037.61" y="2030.61" width="25.37" height="22.20"/>
<rect class="c7" x="1062.99" y="2030.61" width="25.37" height="22.20"/>
<rect class="c0" x="1088.36" y="2030.61" width="25.37" height="22.20"/>
<rect class="c2" x="1113.73" y="2030.61" width="25.37" height="22.20"/>
<rect class="c14" x="1139.11" y="2030.61" width="25.37" height="22.20"/>
<rect class="c10" x="1164.48" y="2030.61" width="25.37" height="22.20"/>
<rect class="c9" x="1189.85" y="2030.61" width="25.37" height="22.20"/>
<rect class="c0" x="1215.23" y="2030.61" width="25.37" height="22.20"/>
<rect class="c6" x="860.00" y="2052.78" width="25.37" height="22.20"/>
<rect class="c2" x="885.37" y="2052.78" width="126.87" height="22.20"/>
<rect class="c7" x="1012.24" y="2052.78" width="25.37" height="22.20"/>
<rect class="c4" x="1037.61" y="2052.78" width="25.37" height="22.20"/>
<rect class="c1" x="1062.99" y="2052.78" width="25.37" height="22.20"/>
<rect class="c8" x="1088.36" y="2052.78" width="25.37" height="22.20"/>
<rect class="c2" x="1113.73" y="2052.78" width="25.37" height="22.20"/>
<rect class="c14" x="1139.11" y="2052.78" width="25.37" height="22.20"/>
<rect class="c8" x="1164.48" y="2052.78" width="25.37" height="22.20"/>
<rect class="c7" x="1189.85" y="2052.78" width="25.37" height="22.20"/>
<rect class="c0" x="1215.23" y="2052.78" width="25.37" height="22.20"/>
<rect class="c0" x="860.00" y="2074.96" width="25.37" height="22.20"/>
<rect class="c14" x="885.37" y="2074.96" width="25.37" height="22.20"/>
<rect class="c7" x="910.75" y="2074.96" width="25.37" height="22.20"/>
<rect class="c10" x="936.12" y="2074.96" width="25.37" height="22.20"/>
<rect class="c7" x="961.49" y="2074.96" width="25.37" height="22.20"/>
<rect class="c1" x="986.87" y="2074.96" width="25.37" height="22.20"/>
<rect class="c0" x="1012.24" y="2074.96" width="101.49" height="22.20"/>
<rect class="c6" x="1113.73" y="2074.96" width="25.37" height="22.20"/>
<rect class="c0" x="1139.11" y="2074.96" width="25.37" height="22.20"/>
<rect class="c8" x="1164.48" y="2074.96" width="25.37" height="22.20"/>
<rect class="c2" x="1189.85" y="2074.96" width="25.37" height="22.20"/>
<rect class="c0" x="1215.23" y="2074.96" width="25.37" height="22.20"/>
<rect class="c4" x="860.00" y="2097.14" width="25.37" height="22.20"/>
<rect class="c2" x="885.37" y="2097.14" width="50.75" height="22.20"/>
<rect class="c14" x="936.12" y="2097.14" width="25.37" height="22.20"/>
<rect class="c1" x="961.49" y="2097.14" width="25.37" height="22.20"/>
<rect class="c2" x="986.87" y="2097.14" width="25.37" height="22.20"/>
<rect class="c7" x="1012.24" y="2097.14" width="25.37" height="22.20"/>
<rect class="c0" x="1037.61" y="2097.14" width="25.37" height="22.20"/>
<rect class="c6" x="1062.99" y="2097.14" width="25.37" height="22.20"/>
<rect class="c9" x="1088.36" y="2097.14" width="25.37" height="22.20"/>
<rect class="c2" x="1113.73" y="2097.14" width="76.12" height="22.20"/>
<rect class="c10" x="1189.85" y="2097.14" width="25.37" height="22.20"/>
<rect class="c7" x="1215.23" y="2097.14" width="25.37" height="22.20"/>
<rect class="c1" x="860.00" y="2119.32" width="25.37" height="22.20"/>
<rect class="c0" x="885.37" y="2119.32" width="50.75" height="22.20"/>
<rect class="c1" x="936.12" y="2119.32" width="25.37" height="22.20"/>
<rect class="c0" x="961.49" y="2119.32" width="50.75" height="22.20"/>
<rect class="c7" x="1012.24" y="2119.32" width="76.12" height="22.20"/>
<rect class="c10" x="1088.36" y="2119.32" width="25.37" height="22.20"/>
<rect class="c6" x="1113.73" y="2119.32" width="25.37" height="22.20"/>
<rect class="c5" x="1139.11" y="2119.32" width="50.75" height="22.20"/>
<rect class="c14" x="1189.85" y="2119.32" width="25.37" height="22.20"/>
<rect class="c6" x="1215.23" y="2119.32" width="25.37" height="22.20"/>
<rect class="c6" x="860.00" y="2141.49" width="25.37" height="22.20"/>
<rect class="c0" x="885.37" y="2141.49" width="25.37" height="22.20"/>
<rect class="c4" x="910.75" y="2141.49" width="50.75" height="22.20"/>
<rect class="c0" x="961.49" y="2141.49" width="50.75" height="22.20"/>
<rect class="c6" x="1012.24" y="2141.49" width="25.37" height="22.20"/>
<rect class="c8" x="1037.61" y="2141.49" width="25.37" height="22.20"/>
<rect class="c6" x="1062.99" y="2141.49" width="25.37" height="22.20"/>
<rect class="c9" x="1088.36" y="2141.49" width="25.37" height="22.20"/>
<rect class="c4" x="1113.73" y="2141.49" width="50.75" height="22.20"/>
<rect class="c0" x="1164.48" y="2141.49" width="25.37" height="22.20"/>
<rect class="c14" x="1189.85" y="2141.49" width="25.37" height="22.20"/>
<rect class="c0" x="1215.23" y="2141.49" width="25.37" height="22.20"/>
<rect class="c2" x="860.00" y="2163.67" width="101.49" height="22.20"/>
<rect class="c1" x="961.49" y="2163.67" width="25.37" height="22.20"/>
<rect class="c2" x="986.87" y="2163.67" width="25.37" height="22.20"/>
<rect class="c7" x="1012.24" y="2163.67" width="25.37" height="22.20"/>
<rect class="c2" x="1037.61" y="2163.67" width="25.37" height="22.20"/>
<rect class="c8" x="1062.99" y="2163.67" width="25.37" height="22.20"/>
<rect class="c14" x="1088.36" y="2163.67" width="25.37" height="22.20"/>
<rect class="c2" x="1113.73" y="2163.67" width="25.37" height="22.20"/>
<rect class="c7" x="1139.11" y="2163.67" width="25.37" height="22.20"/>
<rect class="c5" x="1164.48" y="2163.67" width="25.37" height="22.20"/>
<rect class="c7" x="1189.85" y="2163.67" width="25.37" height="22.20"/>
<rect class="c4" x="1215.23" y="2163.67" width="25.37" height="22.20"/>
<rect class="c0" x="860.00" y="2185.85" width="50.75" height="22.20"/>
<rect class="c2" x="910.75" y="2185.85" width="50.75" height="22.20"/>
<rect class="c0" x="961.49" y="2185.85" width="25.37" height="22.20"/>
<rect class="c1" x="986.87" y="2185.85" width="25.37" height="22.20"/>
<rect class="c4" x="1012.24" y="2185.85" width="25.37" height="22.20"/>
<rect class="c6" x="1037.61" y="2185.85" width="25.37" height="22.20"/>
<rect class="c8" x="1062.99" y="2185.85" width="25.37" height="22.20"/>
<rect class="c14" x="1088.36" y="2185.85" width="25.37" height="22.20"/>
<rect class="c4" x="1113.73" y="2185.85" width="25.37" height="22.20"/>
<rect class="c1" x="1139.11" y="2185.85" width="25.37" height="22.20"/>
<rect class="c2" x="1164.48" y="2185.85" width="25.37" height="22.20"/>
<rect class="c9" x="1189.85" y="2185.85" width="25.37" height="22.20"/>
<rect class="c1" x="1215.23" y="2185.85" width="25.37" height="22.20"/>
<rect class="c0" x="860.00" y="2208.02" width="76.12" height="22.20"/>
<rect class="c2" x="936.12" y="2208.02" width="25.37" height="22.20"/>
<rect class="c5" x="961.49" y="2208.02" width="50.75" height="22.20"/>
<rect class="c7" x="1012.24" y="2208.02" width="25.37" height="22.20"/>
<rect class="c5" x="1037.61" y="2208.02" width="25.37" height="22.20"/>
<rect class="c12" x="1062.99" y="2208.02" width="25.37" height="22.20"/>
<rect class="c7" x="1088.36" y="2208.02" width="25.37" height="22.20"/>
<rect class="c0" x="1113.73" y="2208.02" width="25.37" height="22.20"/>
<rect class="c7" x="1139.11" y="2208.02" width="25.37" height="22.20"/>
<rect class="c4" x="1164.48" y="2208.02" width="25.37" height="22.20"/>
<rect class="c7" x="1189.85" y="2208.02" width="25.37" height="22.20"/>
<rect class="c0" x="1215.23" y="2208.02" width="25.37" height="22.20"/>
<rect class="c0" x="860.00" y="2230.20" width="25.37" height="22.20"/>
<rect class="c1" x="885.37" y="2230.20" width="50.75" height="22.20"/>
<rect class="c4" x="936.12" y="2230.20" width="25.37" height="22.20"/>
<rect class="c0" x="961.49" y="2230.20" width="25.37" height="22.20"/>
<rect class="c1" x="986.87" y="2230.20" width="25.37" height="22.20"/>
<rect class="c12" x="1012.24" y="2230.20" width="25.37" height="22.20"/>
<rect class="c0" x="1037.61" y="2230.20" width="25.37" height="22.20"/>
<rect class="c14" x="1062.99" y="2230.20" width="25.37" height="22.20"/>
<rect class="c0" x="1088.36" y="2230.20" width="25.37" height="22.20"/>
<rect class="c5" x="1113.73" y="2230.20" width="25.37" height="22.20"/>
<rect class="c0" x="1139.11" y="2230.20" width="25.37" height="22.20"/>
<rect class="c7" x="1164.48" y="2230.20" width="25.37" height="22.20"/>
<rect class="c0" x="1189.85" y="2230.20" width="50.75" height="22.20"/>
<rect class="c5" x="860.00" y="2252.38" width="25.37" height="22.20"/>
<rect class="c0" x="885.37" y="2252.38" width="25.37" height="22.20"/>
<rect class="c5" x="910.75" y="2252.38" width="50.75" height="22.20"/>
<rect class="c0" x="961.49" y="2252.38" width="50.75" height="22.20"/>
<rect class="c7" x="1012.24" y="2252.38" width="25.37" height="22.20"/>
<rect class="c11" x="1037.61" y="2252.38" width="25.37" height="22.20"/>
<rect class="c2" x="1062.99" y="2252.38" width="25.37" height="22.20"/>
<rect class="c5" x="1088.36" y="2252.38" width="25.37" height="22.20"/>
<rect class="c2" x="1113.73" y="2252.38" width="25.37" height="22.20"/>
<rect class="c6" x="1139.11" y="2252.38" width="25.37" height="22.20"/>
<rect class="c0" x="1164.48" y="2252.38" width="25.37" height="22.20"/>
<rect class="c5" x="1189.85" y="2252.38" width="25.37" height="22.20"/>
<rect class="c1" x="1215.23" y="2252.38" width="25.37" height="22.20"/>
<rect class="c0" x="860.00" y="2274.55" width="25.37" height="22.20"/>
<rect class="c5" x="885.37" y="2274.55" width="25.37" height="22.20"/>
<rect class="c4" x="910.75" y="2274.55" width="101.49" height="22.20"/>
<rect class="c1" x="1012.24" y="2274.55" width="25.37" height="22.20"/>
<rect class="c0" x="1037.61" y="2274.55" width="25.37" height="22.20"/>
<rect class="c2" x="1062.99" y="2274.55" width="25.37" height="22.20"/>
<rect class="c1" x="1088.36" y="2274.55" width="25.37" height="22.20"/>
<rect class="c10" x="1113.73" y="2274.55" width="25.37" height="22.20"/>
<rect class="c2" x="1139.11" y="2274.55" width="50.75" height="22.20"/>
<rect class="c1" x="1189.85" y="2274.55" width="50.75" height="22.20"/>
<rect class="c5" x="860.00" y="2296.73" width="25.37" height="22.20"/>
<rect class="c0" x="885.37" y="2296.73" width="25.37" height="22.20"/>
<rect class="c5" x="910.75" y="2296.73" width="25.37" height="22.20"/>
<rect class="c2" x="936.12" y="2296.73" width="25.37" height="22.20"/>
<rect class="c4" x="961.49" y="2296.73" width="25.37" height="22.20"/>
<rect class="c0" x="986.87" y="2296.73" width="25.37" height="22.20"/>
<rect class="c4" x="1012.24" y="2296.73" width="25.37" height="22.20"/>
<rect class="c5" x="1037.61" y="2296.73" width="25.37" height="22.20"/>
<rect class="c7" x="1062.99" y="2296.73" width="25.37" height="22.20"/>
<rect class="c6" x="1088.36" y="2296.73" width="50.75" height="22.20"/>
<rect class="c1" x="1139.11" y="2296.73" width="25.37" height="22.20"/>
<rect class="c5" x="1164.48" y="2296.73" width="25.37" height="22.20"/>
<rect class="c7" x="1189.85" y="2296.73" width="50.75" height="22.20"/>
<rect class="c6" x="860.00" y="2318.91" width="25.37" height="22.20"/>
<rect class="c4" x="885.37" y="2318.91" width="25.37" height="22.20"/>
<rect class="c2" x="910.75" y="2318.91" width="101.49" height="22.20"/>
<rect class="c7" x="1012.24" y="2318.91" width="25.37" height="22.20"/>
<rect class="c6" x="1037.61" y="2318.91" width="25.37" height="22.20"/>
<rect class="c1" x="1062.99" y="2318.91" width="25.37" height="22.20"/>
<rect class="c5" x="1088.36" y="2318.91" width="25.37" height="22.20"/>
<rect class="c2" x="1113.73" y="2318.91" width="76.12" height="22.20"/>
<rect class="c1" x="1189.85" y="2318.91" width="25.37" height="22.20"/>
<rect class="c6" x="1215.23" y="2318.91" width="25.37" height="22.20"/>
<rect class="c6" x="860.00" y="2341.08" width="25.37" height="22.20"/>
<rect class="c0" x="885.37" y="2341.08" width="25.37" height="22.20"/>
<rect class="c2" x="910.75" y="2341.08" width="25.37" height="22.20"/>
<rect class="c0" x="936.12" y="2341.08" width="76.12" height="22.20"/>
<rect class="c4" x="1012.24" y="2341.08" width="50.75" height="22.20"/>
<rect class="c5" x="1062.99" y="2341.08" width="50.75" height="22.20"/>
<rect class="c0" x="1113.73" y="2341.08" width="50.75" height="22.20"/>
<rect class="c2" x="1164.48" y="2341.08" width="25.37" height="22.20"/>
<rect class="c4" x="1189.85" y="2341.08" width="25.37" height="22.20"/>
<rect class="c7" x="1215.23" y="2341.08" width="25.37" height="22.20"/>
<rect class="c6" x="860.00" y="2363.26" width="25.37" height="22.20"/>
<rect class="c2" x="885.37" y="2363.26" width="126.87" height="22.20"/>
<rect class="c0" x="1012.24" y="2363.26" width="50.75" height="22.20"/>
<rect class="c1" x="1062.99" y="2363.26" width="50.75" height="22.20"/>
<rect class="c2" x="1113.73" y="2363.26" width="76.12" height="22.20"/>
<rect class="c1" x="1189.85" y="2363.26" width="25.37" height="22.20"/>
<rect class="c6" x="1215.23" y="2363.26" width="25.37" height="22.20"/>
<rect class="c2" x="860.00" y="2385.44" width="25.37" height="22.20"/>
<rect class="c0" x="885.37" y="2385.44" width="76.12" height="22.20"/>
<rect class="c4" x="961.49" y="2385.44" width="25.37" height="22.20"/>
<rect class="c0" x="986.87" y="2385.44" width="25.37" height="22.20"/>
<rect class="c1" x="1012.24" y="2385.44" width="25.37" height="22.20"/>
<rect class="c5" x="1037.61" y="2385.44" width="25.37" height="22.20"/>
<rect class="c2" x="1062.99" y="2385.44" width="50.75" height="22.20"/>
<rect class="c0" x="1113.73" y="2385.44" width="76.12" height="22.20"/>
<rect class="c2" x="1189.85" y="2385.44" width="25.37" height="22.20"/>
<rect class="c5" x="1215.23" y="2385.44" width="25.37" height="22.20"/>
<rect class="c2" x="860.00" y="2407.62" width="25.37" height="22.20"/>
<rect class="c0" x="885.37" y="2407.62" width="76.12" height="22.20"/>
<rect class="c4" x="961.49" y="2407.62" width="25.37" height="22.20"/>
<rect class="c0" x="986.87" y="2407.62" width="25.37" height="22.20"/>
<rect class="c1" x="1012.24" y="2407.62" width="25.37" height="22.20"/>
<rect class="c5" x="1037.61" y="2407.62" width="25.37" height="22.20"/>
<rect class="c2" x="1062.99" y="2407.62" width="50.75" height="22.20"/>
<rect class="c0" x="1113.73" y="2407.62" width="76.12" height="22.20"/>
<rect class="c2" x="1189.85" y="2407.62" width="25.37" height="22.20"/>
<rect class="c5" x="1215.23" y="2407.62" width="25.37" height="22.20"/>
<rect class="c5" x="860.00" y="2429.79" width="25.37" height="22.20"/>
<rect class="c0" x="885.37" y="2429.79" width="25.37" height="22.20"/>
<rect class="c1" x="910.75" y="2429.79" width="50.75" height="22.20"/>
<rect class="c2" x="961.49" y="2429.79" width="25.37" height="22.20"/>
<rect class="c0" x="986.87" y="2429.79" width="50.75" height="22.20"/>
<rect class="c5" x="1037.61" y="2429.79" width="25.37" height="22.20"/>
<rect class="c2" x="1062.99" y="2429.79" width="25.37" height="22.20"/>
<rect class="c1" x="1088.36" y="2429.79" width="25.37" height="22.20"/>
<rect class="c0" x="1113.73" y="2429.79" width="76.12" height="22.20"/>
<rect class="c1" x="1189.85" y="2429.79" width="25.37" height="22.20"/>
<rect class="c6" x="1215.23" y="2429.79" width="25.37" height="22.20"/>
<rect class="c2" x="860.00" y="2451.97" width="25.37" height="22.20"/>
<rect class="c1" x="885.37" y="2451.97" width="76.12" height="22.20"/>
<rect class="c5" x="961.49" y="2451.97" width="25.37" height="22.20"/>
<rect class="c1" x="986.87" y="2451.97" width="25.37" height="22.20"/>
<rect class="c2" x="1012.24" y="2451.97" width="25.37" height="22.20"/>
<rect class="c1" x="1037.61" y="2451.97" width="25.37" height="22.20"/>
<rect class="c0" x="1062.99" y="2451.97" width="50.75" height="22.20"/>
<rect class="c1" x="1113.73" y="2451.97" width="50.75" height="22.20"/>
<rect class="c0" x="1164.48" y="2451.97" width="50.75" height="22.20"/>
<rect class="c2" x="1215.23" y="2451.97" width="25.37" height="22.20"/>
<rect class="c0" x="860.00" y="2474.15" width="25.37" height="22.20"/>
<rect class="c2" x="885.37" y="2474.15" width="25.37" height="22.20"/>
<rect class="c1" x="910.75" y="2474.15" width="101.49" height="22.20"/>
<rect class="c0" x="1012.24" y="2474.15" width="50.75" height="22.20"/>
<rect class="c1" x="1062.99" y="2474.15" width="25.37" height="22.20"/>
<rect class="c0" x="1088.36" y="2474.15" width="25.37" height="22.20"/>
<rect class="c2" x="1113.73" y="2474.15" width="50.75" height="22.20"/>
<rect class="c1" x="1164.48" y="2474.15" width="25.37" height="22.20"/>
<rect class="c0" x="1189.85" y="2474.15" width="50.75" height="22.20"/>
<rect class="c0" x="860.00" y="2496.32" width="50.75" height="22.20"/>
<rect class="c1" x="910.75" y="2496.32" width="50.75" height="22.20"/>
<rect class="c2" x="961.49" y="2496.32" width="25.37" height="22.20"/>
<rect class="c1" x="986.87" y="2496.32" width="25.37" height="22.20"/>
<rect class="c2" x="1012.24" y="2496.32" width="25.37" height="22.20"/>
<rect class="c0" x="1037.61" y="2496.32" width="25.37" height="22.20"/>
<rect class="c4" x="1062.99" y="2496.32" width="25.37" height="22.20"/>
<rect class="c1" x="1088.36" y="2496.32" width="25.37" height="22.20"/>
<rect class="c0" x="1113.73" y="2496.32" width="50.75" height="22.20"/>
<rect class="c5" x="1164.48" y="2496.32" width="50.75" height="22.20"/>
<rect class="c0" x="1215.23" y="2496.32" width="25.37" height="22.20"/>
</g>
<rect x="424.00" y="1299.60" width="152.20" height="24.20" fill="#BEBEBE"/>
<rect x="576.15" y="1299.60" width="126.84" height="24.20" fill="#000000"/>
<rect x="702.95" y="1299.60" width="152.20" height="24.20" fill="#FF0000"/>
<rect x="860.00" y="1299.60" width="76.17" height="24.20" fill="#BEBEBE"/>
<rect x="936.12" y="1299.60" width="152.29" height="24.20" fill="#000000"/>
<rect x="1088.36" y="1299.60" width="152.29" height="24.20" fill="#FF0000"/>
<text x="418.60" y="1319.50" text-anchor="end" font-size="21.05">Treatment</text>
<text x="639.55" y="1351.40" text-anchor="middle" font-size="22.5">HFD_L</text>
<text x="1050.30" y="1351.40" text-anchor="middle" font-size="22.5">Chow</text>
<text x="418.40" y="1383.69" text-anchor="end" font-size="20.9">Lactobacillus</text>
<text x="418.40" y="1405.87" text-anchor="end" font-size="20.9">Romboutsia</text>
<text x="418.40" y="1428.04" text-anchor="end" font-size="20.9">Clostridium_sensu_stricto_1</text>
<text x="418.40" y="1450.22" text-anchor="end" font-size="20.9">Lachnospiraceae_UCG.006</text>
<text x="418.40" y="1472.40" text-anchor="end" font-size="20.9">Ligilactobacillus</text>
<text x="418.40" y="1494.57" text-anchor="end" font-size="20.9">Turicibacter</text>
<text x="418.40" y="1516.75" text-anchor="end" font-size="20.9">Rikenella</text>
<text x="418.40" y="1538.93" text-anchor="end" font-size="20.9">Shuttleworthia</text>
<text x="418.40" y="1561.10" text-anchor="end" font-size="20.9">Ruminococcus_gnavus_group</text>
<text x="418.40" y="1583.28" text-anchor="end" font-size="20.9">Ruminococcus.1</text>
<text x="418.40" y="1605.46" text-anchor="end" font-size="20.9">Streptococcus</text>
<text x="418.40" y="1627.63" text-anchor="end" font-size="20.9">Enterococcus</text>
<text x="418.40" y="1649.81" text-anchor="end" font-size="20.9">Intestinimonas</text>
<text x="418.40" y="1671.99" text-anchor="end" font-size="20.9">Mucispirillum</text>
<text x="418.40" y="1694.17" text-anchor="end" font-size="20.9">Rikenellaceae_RC9_gut_group</text>
<text x="418.40" y="1716.34" text-anchor="end" font-size="20.9">Tuzzerella</text>
<text x="418.40" y="1738.52" text-anchor="end" font-size="20.9">Peptococcus</text>
<text x="418.40" y="1760.70" text-anchor="end" font-size="20.9">Akkermansia</text>
<text x="418.40" y="1782.87" text-anchor="end" font-size="20.9">Candidatus_Saccharimonas</text>
<text x="418.40" y="1805.05" text-anchor="end" font-size="20.9">Dubosiella</text>
<text x="418.40" y="1827.23" text-anchor="end" font-size="20.9">Desulfovibrio</text>
<text x="418.40" y="1849.40" text-anchor="end" font-size="20.9">Jeotgalicoccus</text>
<text x="418.40" y="1871.58" text-anchor="end" font-size="20.9">Parasutterella</text>
<text x="418.40" y="1893.76" text-anchor="end" font-size="20.9">Bifidobacterium</text>
<text x="418.40" y="1915.93" text-anchor="end" font-size="20.9">Enterorhabdus</text>
<text x="418.40" y="1938.11" text-anchor="end" font-size="20.9">Faecalibaculum</text>
<text x="418.40" y="1960.29" text-anchor="end" font-size="20.9">Coriobacteriaceae_UCG.002</text>
<text x="418.40" y="1982.47" text-anchor="end" font-size="20.9">Erysipelatoclostridium</text>
<text x="418.40" y="2004.64" text-anchor="end" font-size="20.9">Eubacterium_brachy_group</text>
<text x="418.40" y="2026.82" text-anchor="end" font-size="20.9">Muribaculum</text>
<text x="418.40" y="2049.00" text-anchor="end" font-size="20.9">Parvibacter</text>
<text x="418.40" y="2071.17" text-anchor="end" font-size="20.9">Monoglobus</text>
<text x="418.40" y="2093.35" text-anchor="end" font-size="20.9">Cutibacterium</text>
<text x="418.40" y="2115.53" text-anchor="end" font-size="20.9">Defluviitaleaceae_UCG.011</text>
<text x="418.40" y="2137.70" text-anchor="end" font-size="20.9">Prevotellaceae_UCG.001</text>
<text x="418.40" y="2159.88" text-anchor="end" font-size="20.9">Eubacterium_siraeum_group</text>
<text x="418.40" y="2182.06" text-anchor="end" font-size="20.9">Christensenellaceae_R.7_group</text>
<text x="418.40" y="2204.23" text-anchor="end" font-size="20.9">Ruminococcus</text>
<text x="418.40" y="2226.41" text-anchor="end" font-size="20.9">Marvinbryantia</text>
<text x="418.40" y="2248.59" text-anchor="end" font-size="20.9">Lachnospiraceae_AC2044_group</text>
<text x="418.40" y="2270.77" text-anchor="end" font-size="20.9">A2</text>
<text x="418.40" y="2292.94" text-anchor="end" font-size="20.9">Lawsonella</text>
<text x="418.40" y="2315.12" text-anchor="end" font-size="20.9">Lachnospi_NK4A136_group</text>
<text x="418.40" y="2337.30" text-anchor="end" font-size="20.9">Acetatifactor</text>
<text x="418.40" y="2359.47" text-anchor="end" font-size="20.9">ASF356</text>
<text x="418.40" y="2381.65" text-anchor="end" font-size="20.9">Oscillospira</text>
<text x="418.40" y="2403.83" text-anchor="end" font-size="20.9">Butyricicoccus</text>
<text x="418.40" y="2426.00" text-anchor="end" font-size="20.9">Bilophila</text>
<text x="418.40" y="2448.18" text-anchor="end" font-size="20.9">Lachnospiraceae_UCG.001</text>
<text x="418.40" y="2470.36" text-anchor="end" font-size="20.9">Paludicola</text>
<text x="418.40" y="2492.53" text-anchor="end" font-size="20.9">Parabacteroides</text>
<text x="418.40" y="2514.71" text-anchor="end" font-size="20.9">Anaeroplasma</text>
<text transform="translate(428.78 2522.90) rotate(90)" font-size="20.9">41</text>
<text transform="translate(454.14 2522.90) rotate(90)" font-size="20.9">40</text>
<text transform="translate(479.50 2522.90) rotate(90)" font-size="20.9">39</text>
<text transform="translate(504.86 2522.90) rotate(90)" font-size="20.9">38</text>
<text transform="translate(530.21 2522.90) rotate(90)" font-size="20.9">37</text>
<text transform="translate(555.57 2522.90) rotate(90)" font-size="20.9">36</text>
<text transform="translate(580.93 2522.90) rotate(90)" font-size="20.9">52</text>
<text transform="translate(606.29 2522.90) rotate(90)" font-size="20.9">51</text>
<text transform="translate(631.65 2522.90) rotate(90)" font-size="20.9">50</text>
<text transform="translate(657.01 2522.90) rotate(90)" font-size="20.9">49</text>
<text transform="translate(682.37 2522.90) rotate(90)" font-size="20.9">48</text>
<text transform="translate(707.73 2522.90) rotate(90)" font-size="20.9">64</text>
<text transform="translate(733.09 2522.90) rotate(90)" font-size="20.9">63</text>
<text transform="translate(758.44 2522.90) rotate(90)" font-size="20.9">62</text>
<text transform="translate(783.80 2522.90) rotate(90)" font-size="20.9">61</text>
<text transform="translate(809.16 2522.90) rotate(90)" font-size="20.9">60</text>
<text transform="translate(834.52 2522.90) rotate(90)" font-size="20.9">59</text>
<text transform="translate(864.79 2522.90) rotate(90)" font-size="20.9">5</text>
<text transform="translate(890.16 2522.90) rotate(90)" font-size="20.9">4</text>
<text transform="translate(915.53 2522.90) rotate(90)" font-size="20.9">3</text>
<text transform="translate(940.91 2522.90) rotate(90)" font-size="20.9">14</text>
<text transform="translate(966.28 2522.90) rotate(90)" font-size="20.9">13</text>
<text transform="translate(991.65 2522.90) rotate(90)" font-size="20.9">12</text>
<text transform="translate(1017.03 2522.90) rotate(90)" font-size="20.9">17</text>
<text transform="translate(1042.40 2522.90) rotate(90)" font-size="20.9">16</text>
<text transform="translate(1067.77 2522.90) rotate(90)" font-size="20.9">15</text>
<text transform="translate(1093.15 2522.90) rotate(90)" font-size="20.9">29</text>
<text transform="translate(1118.52 2522.90) rotate(90)" font-size="20.9">28</text>
<text transform="translate(1143.89 2522.90) rotate(90)" font-size="20.9">27</text>
<text transform="translate(1169.27 2522.90) rotate(90)" font-size="20.9">26</text>
<text transform="translate(1194.64 2522.90) rotate(90)" font-size="20.9">25</text>
<text transform="translate(1220.01 2522.90) rotate(90)" font-size="20.9">24</text>
<text transform="translate(1306.60 1941.90) rotate(90)" text-anchor="middle" font-size="21.3">large intestine</text>
<path d="M1242.60 1376.39H1271.90V1398.57H1242.60M1242.60 1465.10H1250.40V1487.27H1242.60M1250.40 1476.18H1254.50V1509.45H1242.60M1254.50 1492.82H1258.00V1531.63H1242.60M1242.60 1442.92H1265.60V1512.22H1258.00M1242.60 1420.74H1269.20V1477.57H1265.60M1242.60 1553.80H1243.10V1575.98H1242.60M1242.60 1598.16H1263.30V1620.33H1242.60M1243.10 1564.89H1270.10V1609.25H1263.30M1269.20 1449.16H1274.60V1587.07H1270.10M1271.90 1387.48H1275.50V1518.11H1274.60M1242.60 1642.51H1259.20V1664.69H1242.60M1242.60 1686.87H1256.80V1709.04H1242.60M1259.20 1653.60H1263.30V1697.95H1256.80M1263.30 1675.78H1268.60V1731.22H1242.60M1242.60 1797.75H1252.70V1819.93H1242.60M1242.60 1775.57H1257.40V1808.84H1252.70M1242.60 1753.40H1264.50V1792.21H1257.40M1264.50 1772.80H1272.10V1842.10H1242.60M1268.60 1703.50H1277.30V1807.45H1272.10M1275.50 1452.79H1278.00V1755.48H1277.30M1242.60 1930.81H1247.10V1952.99H1242.60M1242.60 1908.63H1247.90V1941.90H1247.10M1242.60 1886.46H1256.20V1925.27H1247.90M1242.60 1864.28H1268.60V1905.86H1256.20M1242.60 1975.17H1264.90V1997.34H1242.60M1242.60 2041.70H1258.10V2063.87H1242.60M1242.60 2019.52H1261.10V2052.78H1258.10M1264.90 1986.25H1269.00V2036.15H1261.10M1269.00 2011.20H1273.20V2086.05H1242.60M1242.60 2130.40H1249.80V2152.58H1242.60M1242.60 2174.76H1250.40V2196.93H1242.60M1249.80 2141.49H1259.20V2185.85H1250.40M1242.60 2108.23H1266.80V2163.67H1259.20M1242.60 2219.11H1257.70V2241.29H1242.60M1242.60 2396.53H1243.10V2418.70H1242.60M1243.10 2407.62H1245.50V2440.88H1242.60M1242.60 2374.35H1246.90V2424.25H1245.50M1242.60 2352.17H1247.60V2399.30H1246.90M1242.60 2330.00H1250.70V2375.74H1247.60M1242.60 2307.82H1253.90V2352.87H1250.70M1242.60 2463.06H1248.20V2485.23H1242.60M1248.20 2474.15H1252.60V2507.41H1242.60M1253.90 2330.34H1256.50V2490.78H1252.60M1242.60 2285.64H1257.10V2410.56H1256.50M1242.60 2263.47H1262.20V2348.10H1257.10M1257.70 2230.20H1268.60V2305.78H1262.20M1266.80 2135.95H1274.50V2267.99H1268.60M1273.20 2048.63H1276.90V2201.97H1274.50M1268.60 1885.07H1281.40V2125.30H1276.90M1278.00 1604.14H1292.20V2005.18H1281.40" fill="none" stroke="#3a3a3a" stroke-width="1.35"/>
<text transform="translate(85.90 478.20) rotate(90)" font-size="21.00" font-weight="bold" textLength="100.60" lengthAdjust="spacingAndGlyphs">Treatment</text>
<rect x="18.20" y="478.20" width="18.30" height="18.30" fill="#FF0000"/>
<rect x="38.20" y="478.20" width="17.70" height="18.30" fill="#000000"/>
<rect x="58.20" y="478.20" width="17.70" height="18.30" fill="#BEBEBE"/>
<text transform="translate(20.20 503.00) rotate(90)" font-size="17.30" textLength="41.10" lengthAdjust="spacingAndGlyphs">OlAla</text>
<text transform="translate(40.20 503.00) rotate(90)" font-size="17.30" textLength="42.30" lengthAdjust="spacingAndGlyphs">OlGly</text>
<text transform="translate(60.00 503.00) rotate(90)" font-size="17.30" textLength="55.20" lengthAdjust="spacingAndGlyphs">Vehicle</text>
<defs><linearGradient id="g1" x1="0" y1="0" x2="0" y2="1"><stop offset="0.0000" stop-color="#FFFFFF"/><stop offset="0.0234" stop-color="#FFFFFF"/><stop offset="0.0706" stop-color="#FFE8EC"/><stop offset="0.1178" stop-color="#FFD2DA"/><stop offset="0.1650" stop-color="#FFBECA"/><stop offset="0.2122" stop-color="#FFACBC"/><stop offset="0.2594" stop-color="#FF9AAE"/><stop offset="0.3066" stop-color="#FF8BA2"/><stop offset="0.3537" stop-color="#FF7C96"/><stop offset="0.4009" stop-color="#FF6C89"/><stop offset="0.4481" stop-color="#FF5B7A"/><stop offset="0.4953" stop-color="#FF4A6B"/><stop offset="0.5425" stop-color="#F33C64"/><stop offset="0.5897" stop-color="#E82E5D"/><stop offset="0.6369" stop-color="#DC2456"/><stop offset="0.6841" stop-color="#D01D50"/><stop offset="0.7313" stop-color="#C4154A"/><stop offset="0.7784" stop-color="#B11243"/><stop offset="0.8256" stop-color="#9E103C"/><stop offset="0.8728" stop-color="#870D34"/><stop offset="0.9200" stop-color="#6A0C29"/><stop offset="0.9672" stop-color="#4E0A1E"/><stop offset="1.0000" stop-color="#4E0A1E"/></linearGradient></defs>
<rect x="58.80" y="596.50" width="21.20" height="149.40" fill="url(#g1)"/>
<path d="M58.80 600.00h4.2M80.00 600.00h-4.2" stroke="#fff" stroke-width="1.1" opacity="0.85"/>
<path d="M58.80 670.30h4.2M80.00 670.30h-4.2" stroke="#fff" stroke-width="1.1" opacity="0.85"/>
<path d="M58.80 741.00h4.2M80.00 741.00h-4.2" stroke="#fff" stroke-width="1.1" opacity="0.85"/>
<text transform="translate(41.20 600.00) rotate(90)" font-size="18.00" text-anchor="middle">0</text>
<text transform="translate(41.20 670.30) rotate(90)" font-size="18.00" text-anchor="middle" textLength="23.00" lengthAdjust="spacingAndGlyphs">0.5</text>
<text transform="translate(41.20 741.00) rotate(90)" font-size="18.00" text-anchor="middle">1</text>
<text transform="translate(87.60 597.60) rotate(90)" font-size="18.60" font-weight="bold" textLength="147.10" lengthAdjust="spacingAndGlyphs">Normalized count</text>
<text transform="translate(92.40 1776.50) rotate(90)" font-size="21.00" font-weight="bold" textLength="100.00" lengthAdjust="spacingAndGlyphs">Treatment</text>
<rect x="18.20" y="1776.50" width="20.00" height="17.60" fill="#FF0000"/>
<rect x="40.00" y="1776.50" width="20.60" height="17.60" fill="#000000"/>
<rect x="62.40" y="1776.50" width="20.00" height="17.60" fill="#BEBEBE"/>
<text transform="translate(20.00 1800.60) rotate(90)" font-size="20.60" textLength="50.00" lengthAdjust="spacingAndGlyphs">OlAla</text>
<text transform="translate(41.80 1800.60) rotate(90)" font-size="20.60" textLength="51.20" lengthAdjust="spacingAndGlyphs">OlGly</text>
<text transform="translate(64.10 1800.60) rotate(90)" font-size="20.60" textLength="67.00" lengthAdjust="spacingAndGlyphs">Vehicle</text>
<defs><linearGradient id="g2" x1="0" y1="0" x2="0" y2="1"><stop offset="0.0000" stop-color="#FFFFFF"/><stop offset="0.0201" stop-color="#FFFFFF"/><stop offset="0.0675" stop-color="#FFE8EC"/><stop offset="0.1149" stop-color="#FFD2DA"/><stop offset="0.1623" stop-color="#FFBECA"/><stop offset="0.2098" stop-color="#FFACBC"/><stop offset="0.2572" stop-color="#FF9AAE"/><stop offset="0.3046" stop-color="#FF8BA2"/><stop offset="0.3520" stop-color="#FF7C96"/><stop offset="0.3995" stop-color="#FF6C89"/><stop offset="0.4469" stop-color="#FF5B7A"/><stop offset="0.4943" stop-color="#FF4A6B"/><stop offset="0.5417" stop-color="#F33C64"/><stop offset="0.5892" stop-color="#E82F5D"/><stop offset="0.6366" stop-color="#DC2456"/><stop offset="0.6840" stop-color="#D01D50"/><stop offset="0.7314" stop-color="#C4154A"/><stop offset="0.7788" stop-color="#B11243"/><stop offset="0.8263" stop-color="#9E103C"/><stop offset="0.8737" stop-color="#870D34"/><stop offset="0.9211" stop-color="#6A0C29"/><stop offset="0.9685" stop-color="#4E0A1E"/><stop offset="1.0000" stop-color="#4E0A1E"/></linearGradient></defs>
<rect x="65.30" y="1894.10" width="21.20" height="149.40" fill="url(#g2)"/>
<path d="M65.30 1897.10h4.2M86.50 1897.10h-4.2" stroke="#fff" stroke-width="1.1" opacity="0.85"/>
<path d="M65.30 1968.20h4.2M86.50 1968.20h-4.2" stroke="#fff" stroke-width="1.1" opacity="0.85"/>
<path d="M65.30 2038.80h4.2M86.50 2038.80h-4.2" stroke="#fff" stroke-width="1.1" opacity="0.85"/>
<text transform="translate(47.60 1897.10) rotate(90)" font-size="19.00" text-anchor="middle">0</text>
<text transform="translate(47.60 1968.20) rotate(90)" font-size="19.00" text-anchor="middle" textLength="21.20" lengthAdjust="spacingAndGlyphs">0.5</text>
<text transform="translate(47.60 2038.80) rotate(90)" font-size="19.00" text-anchor="middle">1</text>
<text transform="translate(94.10 1895.30) rotate(90)" font-size="18.80" font-weight="bold" textLength="146.50" lengthAdjust="spacingAndGlyphs">Normalized count</text>
<rect x="2" y="1298.9" width="1321" height="1.4" fill="#D8D8D8"/>
<rect x="2" y="1253" width="1321" height="0.8" fill="#F6F6F6"/>
</svg></body></html>
